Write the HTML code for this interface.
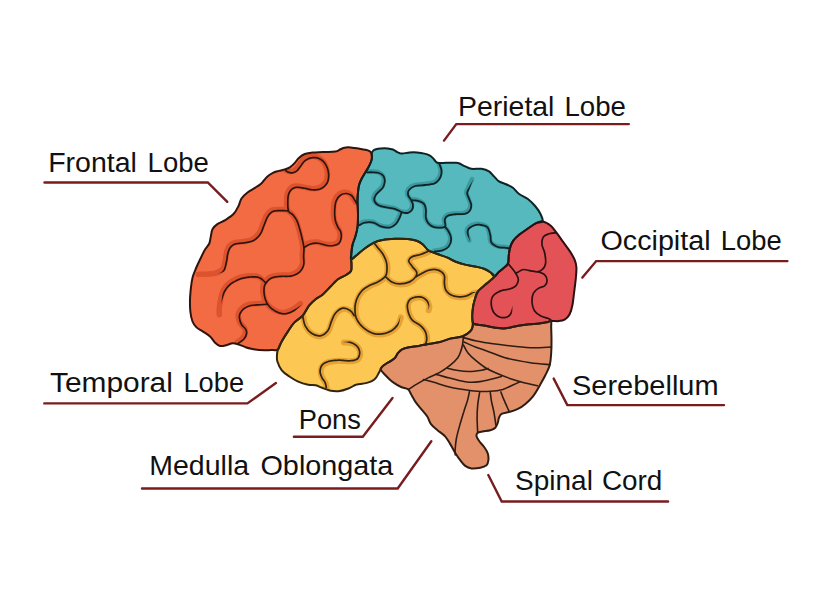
<!DOCTYPE html>
<html><head><meta charset="utf-8"><style>
html,body{margin:0;padding:0;background:#fff;width:824px;height:613px;overflow:hidden;}
svg{display:block;}
</style></head><body>
<svg width="824" height="613" viewBox="0 0 824 613">
<defs>
<clipPath id="cfr"><path d="M371.6,153.5C371.2,152.4 370.5,151.8 369.5,151.2C368.5,150.6 366.8,150.1 365.5,149.8C364.2,149.5 363.8,149.5 362,149.2C360.2,148.9 356.9,148.4 354.7,148.1C352.5,147.8 350.5,147.4 348.8,147.3C347.1,147.2 345.9,147.3 344.4,147.7C342.9,148.1 341.5,148.8 340,149.5C338.5,150.2 338.3,151.2 335.4,151.6C332.5,152 326.6,151.8 322.8,152C319,152.2 315.7,152.2 312.7,152.5C309.7,152.8 307.1,153.1 304.8,154C302.5,154.9 300.5,156.5 298.8,158C297.1,159.5 296.3,161.3 294.8,162.9C293.3,164.5 291.5,166.3 289.8,167.4C288.1,168.5 286.7,168.8 284.9,169.4C283.1,170 280.9,170.3 278.9,170.9C276.9,171.5 274.9,171.9 272.9,172.9C270.9,173.9 268.9,175.1 266.9,176.9C264.9,178.7 263,182 261,183.8C259,185.6 257.2,186.4 255,187.8C252.8,189.2 249.8,190.7 247.5,192.5C245.2,194.3 243,196.2 241.5,198.5C240,200.8 239.8,203.4 238.5,206C237.2,208.6 235.7,211.7 233.5,214C231.3,216.3 227.8,218.4 225.2,220.1C222.6,221.8 219.8,222.4 217.7,223.9C215.6,225.4 213.8,226.8 212.6,228.9C211.4,231 211.4,234 210.8,236.4C210.2,238.8 210.3,241.2 209.3,243.5C208.3,245.8 206.2,247.5 204.6,250.3C203,253.1 201.1,257.3 199.7,260.3C198.2,263.3 197.1,265.7 195.9,268.5C194.7,271.3 193.5,273.9 192.7,277C191.9,280.1 191.4,283.3 191,287C190.6,290.7 190.1,295.2 190,299.4C189.9,303.6 190,308.3 190.4,312C190.8,315.7 191.5,318.9 192.5,321.5C193.5,324.1 194.8,325.7 196.5,327.4C198.2,329.1 200.7,330.1 203,331.6C205.3,333.1 208.1,334.5 210.1,336.4C212.1,338.2 213.4,341.1 215.1,342.7C216.8,344.3 218.2,345.5 220.1,345.9C222,346.3 224.3,345.6 226.4,345.2C228.5,344.8 230.6,343.4 232.7,343.3C234.8,343.2 236.9,344 239,344.6C241.1,345.2 242.6,346.3 245.3,347.1C248,347.9 252,349.1 255.3,349.6C258.6,350.1 262.5,350.2 265.4,350.3C268.3,350.4 270.8,350.1 272.9,350C275,349.9 276.4,351 277.9,349.6C279.4,348.2 280,344.5 281.7,341.5C283.4,338.5 285.9,334.5 288,331.4C290.1,328.2 291.8,325.2 294.2,322.6C296.6,320 300.2,318.5 302.7,315.7C305.2,312.9 306.9,308.4 309,305.7C311.1,303 313,301.3 315.3,299.4C317.6,297.5 320.3,296.5 322.8,294.4C325.3,292.3 327.8,289.3 330.3,286.8C332.8,284.3 335.3,281.3 337.9,279.3C340.5,277.3 343.8,276.4 346,275C348.2,273.6 350.1,272.8 351,271C351.9,269.2 351.4,265.9 351.5,264C351.6,262.1 351.3,261.2 351.3,259.5C351.3,257.8 351.1,256.4 351.3,254C351.5,251.6 351.8,248 352.5,245C353.2,242 354.6,239.1 355.5,236C356.4,232.9 357.2,230.2 357.6,226.5C358,222.8 358,218.2 358,214C358,209.8 357.5,204.7 357.5,201C357.5,197.3 357.7,194.7 358,192C358.3,189.3 358.5,187.2 359.1,185C359.7,182.8 360.5,181 361.5,179C362.5,177 363.9,174.9 365,173C366.1,171.1 367.3,169.3 368.3,167.5C369.3,165.7 370.3,163.6 370.9,162C371.5,160.4 371.8,159.4 371.9,158C372,156.6 372,154.6 371.6,153.5Z"/></clipPath>
<clipPath id="cpa"><path d="M371.6,153.5C371.8,152.3 372.5,151.3 373.2,150.6C373.9,149.9 374.8,149.6 376,149.2C377.2,148.8 378.4,148.5 380.4,148.4C382.3,148.3 385.6,148.2 387.7,148.4C389.8,148.6 391.3,148.9 392.9,149.5C394.5,150.1 396.1,151.5 397.3,152.1C398.5,152.7 399.2,152.9 400,153.2C400.8,153.4 400.7,153.7 402.3,153.6C403.9,153.5 407.2,152.7 409.7,152.5C412.1,152.3 414.6,152.3 417,152.5C419.4,152.7 422.3,153.1 424.4,153.6C426.5,154.1 428,154.6 429.5,155.4C431,156.2 432.1,157.3 433.2,158.4C434.3,159.5 435.1,161.2 436.1,162C437.1,162.8 437.3,163 439,163.1C440.7,163.2 443.7,162.9 446.4,162.8C449.1,162.8 452.9,162.7 455,162.8C457.1,162.9 457.1,162.6 458.8,163.2C460.5,163.8 463,165.4 465.1,166.3C467.2,167.2 468.7,168.4 471.4,168.8C474.1,169.2 478.6,168.4 481.5,168.8C484.4,169.2 486.9,170 489,171.3C491.1,172.6 492.3,174.7 494,176.4C495.7,178.1 496.9,180.1 499,181.4C501.1,182.8 504.3,183.4 506.6,184.5C508.9,185.6 510.8,186.1 512.9,187.7C515,189.3 516.6,192.1 519.1,194C521.6,195.9 525.2,196.9 527.9,199C530.6,201.1 533.4,204 535.5,206.5C537.6,209 539.3,211.5 540.5,214C541.7,216.5 543.4,219.8 542.6,221.4C541.8,223 538.1,222.2 535.7,223.3C533.3,224.5 530.9,226.4 528.2,228.3C525.5,230.2 521.9,232.5 519.4,234.6C516.9,236.7 514.7,238.6 513.1,240.9C511.5,243.2 510.6,245.9 509.9,248.4C509.2,250.9 509,253.5 508.7,256C508.4,258.5 508.9,261.4 508,263.5C507.1,265.6 504.6,267 503,268.5C501.4,270 499.9,271 498.5,272.3C497.1,273.6 496,276.5 494.6,276.5C493.2,276.5 492.1,273.6 490.3,272.3C488.5,271 486.5,269.8 484,268.8C481.5,267.8 478.3,267.2 475.2,266.5C472.1,265.8 468.5,265.4 465.1,264.6C461.8,263.8 458,262.6 455.1,261.5C452.2,260.4 449.9,258.8 447.5,257.7C445.1,256.6 442.8,255.9 440.5,255.1C438.2,254.2 435.6,253.4 433.5,252.6C431.4,251.8 429.7,251.5 427.9,250.1C426.1,248.7 424.8,246 422.9,244.4C421,242.8 419.1,241.6 416.6,240.7C414.1,239.8 411.4,239.3 407.8,239C404.2,238.7 399.5,238.7 395.3,238.8C391.1,239 386.3,239.3 382.7,239.9C379.1,240.5 376.8,241.2 373.9,242.6C371,244 367.8,246.3 365.1,248.3C362.4,250.3 359.9,252.5 357.6,254.4C355.3,256.3 352.4,259.6 351.3,259.5C350.2,259.4 351.1,256.4 351.3,254C351.5,251.6 351.8,248 352.5,245C353.2,242 354.6,239.1 355.5,236C356.4,232.9 357.2,230.2 357.6,226.5C358,222.8 358,218.2 358,214C358,209.8 357.5,204.7 357.5,201C357.5,197.3 357.7,194.7 358,192C358.3,189.3 358.5,187.2 359.1,185C359.7,182.8 360.5,181 361.5,179C362.5,177 363.9,174.9 365,173C366.1,171.1 367.3,169.3 368.3,167.5C369.3,165.7 370.3,163.6 370.9,162C371.5,160.4 371.8,159.4 371.9,158C372,156.6 371.4,154.7 371.6,153.5Z"/></clipPath>
<clipPath id="coc"><path d="M542.6,221.4C540.1,221 538.1,222.2 535.7,223.3C533.3,224.5 530.9,226.4 528.2,228.3C525.5,230.2 521.9,232.5 519.4,234.6C516.9,236.7 514.7,238.6 513.1,240.9C511.5,243.2 510.6,245.9 509.9,248.4C509.2,250.9 509,253.5 508.7,256C508.4,258.5 508.9,261.4 508,263.5C507.1,265.6 504.6,267 503,268.5C501.4,270 499.9,271 498.5,272.3C497.1,273.6 496.2,274.9 494.6,276.5C493,278.1 490.6,280.2 488.6,281.9C486.6,283.6 484.5,285.2 482.7,286.9C480.9,288.6 479,289.8 477.7,291.9C476.4,294 475.5,297.1 474.7,299.8C473.9,302.5 473.3,305 472.9,307.8C472.5,310.6 472.2,314.1 472.2,316.7C472.2,319.3 472.2,322.3 473,323.6C473.8,324.9 475.2,324.3 477,324.6C478.8,324.9 481.2,325.1 484,325.6C486.8,326.1 490.6,327 493.9,327.5C497.2,328 500.4,328.7 503.6,328.6C506.9,328.5 510.7,327.3 513.4,326.8C516.1,326.3 517.3,325.9 520,325.5C522.7,325.1 526.2,324.6 529.4,324.3C532.6,324 536.3,324 539.2,323.6C542.1,323.2 545,322.6 547,322.2C549,321.8 549,321.2 551,321C553,320.8 556.5,321.3 558.8,321.1C561.1,320.9 562.8,320.7 564.6,319.6C566.4,318.5 568.2,317 569.5,314.5C570.8,312 571.7,308.8 572.5,304.7C573.3,300.6 573.8,294.6 574.4,290C575,285.4 575.6,281.1 575.9,277.3C576.2,273.5 576.6,270.2 576.4,267.3C576.2,264.4 575.7,262.4 574.6,259.7C573.5,257 571.5,253.8 569.6,250.9C567.7,248 565.4,245.1 563.3,242.2C561.2,239.3 559.1,236.1 557,233.4C554.9,230.7 553.2,227.8 550.8,225.8C548.4,223.8 545.1,221.8 542.6,221.4Z"/></clipPath>
<clipPath id="ctn"><path d="M380.6,369.4C380.3,368.1 381.5,367.4 382.5,366.4C383.5,365.4 384.9,364.5 386.4,363.5C387.9,362.5 389.8,361.6 391.3,360.6C392.8,359.6 394.1,358.9 395.2,357.6C396.3,356.3 397,354.1 398.2,352.7C399.4,351.3 400.3,350.2 402.1,349.3C403.9,348.4 406.2,347.9 409,347.3C411.8,346.7 415.4,346.5 418.7,345.9C421.9,345.3 424.9,344.5 428.5,343.9C432.1,343.2 436.4,342.9 440,342C443.6,341.1 446.2,339.6 450,338.6C453.8,337.7 459.4,337.5 462.8,336.3C466.2,335.1 468.7,332.9 470.3,331.3C471.9,329.8 472.1,328.3 472.5,327C472.9,325.7 472.2,324 473,323.6C473.8,323.2 475.2,324.3 477,324.6C478.8,324.9 481.2,325.1 484,325.6C486.8,326.1 490.6,327 493.9,327.5C497.2,328 500.4,328.7 503.6,328.6C506.9,328.5 510.7,327.3 513.4,326.8C516.1,326.3 517.3,325.9 520,325.5C522.7,325.1 526.2,324.6 529.4,324.3C532.6,324 536.3,324 539.2,323.6C542.1,323.2 545,322.6 547,322.2C549,321.8 550.3,320.1 551,321C551.7,321.9 551.1,324.4 551.2,327.6C551.3,330.8 551.5,335.9 551.5,340.1C551.5,344.3 551.5,348.5 551.2,352.7C550.9,356.9 550.7,361.4 549.7,365.2C548.7,369 546.9,372 545.3,375.3C543.7,378.6 542,381.5 540,385C538,388.5 535.4,393.2 533,396.3C530.6,399.4 527.9,401.8 525.4,403.9C522.9,406 520.6,407.5 517.9,408.9C515.2,410.2 511.8,411.2 509.1,412C506.4,412.8 503.3,412.9 501.6,413.9C499.9,414.8 499.6,416.2 499,417.7C498.4,419.2 498.4,421 497.8,422.7C497.2,424.4 496.6,426.4 495.3,427.7C494.1,429 492.4,429.7 490.3,430.3C488.2,430.9 484.8,431.1 482.7,431.5C480.6,431.9 478.7,432 477.7,432.8C476.7,433.6 476.3,435.1 476.6,436.5C476.9,437.9 478.2,439.7 479.5,441.5C480.8,443.3 483.1,445.5 484.5,447.5C485.9,449.5 487.2,451.4 487.8,453.5C488.4,455.6 488.6,458.2 488.4,460.2C488.2,462.1 487.9,463.9 486.5,465.2C485.1,466.4 482.8,467.2 480.3,467.7C477.8,468.2 474,468.7 471.5,468.4C469,468.1 467.1,467.3 465.2,465.9C463.3,464.5 461.9,462.4 460.2,460.2C458.5,458 456.8,455.4 455.1,452.7C453.4,450 451.8,446.6 450.1,443.9C448.4,441.2 447.2,438.6 445.1,436.3C443,434 439.9,432.2 437.5,430.2C435.1,428.2 432.7,426.4 431,424.1C429.3,421.8 428.8,418.8 427.3,416.5C425.9,414.2 424.2,412.6 422.3,410.3C420.4,408 417.5,404.8 416,402.7C414.5,400.6 414.1,399.5 413.2,398C412.3,396.5 411.8,395.4 410.9,393.9C410,392.4 409.6,390.3 408,389.2C406.4,388.1 403.4,388 401.1,387C398.8,386 396.2,384.4 394.3,383.1C392.4,381.8 391,380.7 389.4,379.2C387.8,377.7 386,375.9 384.5,374.3C383,372.7 380.9,370.7 380.6,369.4Z"/></clipPath>
<clipPath id="cte"><path d="M351.3,259.5C352.3,257.9 355.3,256.3 357.6,254.4C359.9,252.5 362.4,250.3 365.1,248.3C367.8,246.3 371,244 373.9,242.6C376.8,241.2 379.1,240.5 382.7,239.9C386.3,239.3 391.1,239 395.3,238.8C399.5,238.7 404.2,238.7 407.8,239C411.4,239.3 414.1,239.8 416.6,240.7C419.1,241.6 421,242.8 422.9,244.4C424.8,246 426.1,248.7 427.9,250.1C429.7,251.5 431.4,251.8 433.5,252.6C435.6,253.4 438.2,254.2 440.5,255.1C442.8,255.9 445.1,256.6 447.5,257.7C449.9,258.8 452.2,260.4 455.1,261.5C458,262.6 461.8,263.8 465.1,264.6C468.5,265.4 472.1,265.8 475.2,266.5C478.3,267.2 481.5,267.8 484,268.8C486.5,269.8 488.5,271 490.3,272.3C492.1,273.6 494.9,274.9 494.6,276.5C494.3,278.1 490.6,280.2 488.6,281.9C486.6,283.6 484.5,285.2 482.7,286.9C480.9,288.6 479,289.8 477.7,291.9C476.4,294 475.5,297.1 474.7,299.8C473.9,302.5 473.3,305 472.9,307.8C472.5,310.6 472.2,314.1 472.2,316.7C472.2,319.3 472.9,321.9 473,323.6C473.1,325.3 472.9,325.7 472.5,327C472.1,328.3 471.9,329.8 470.3,331.3C468.7,332.9 466.2,335.1 462.8,336.3C459.4,337.5 453.8,337.7 450,338.6C446.2,339.6 443.6,341.1 440,342C436.4,342.9 432.1,343.2 428.5,343.9C424.9,344.5 421.9,345.3 418.7,345.9C415.4,346.5 411.8,346.7 409,347.3C406.2,347.9 403.9,348.4 402.1,349.3C400.3,350.2 399.4,351.3 398.2,352.7C397,354.1 396.3,356.3 395.2,357.6C394.1,358.9 392.8,359.6 391.3,360.6C389.8,361.6 387.9,362.5 386.4,363.5C384.9,364.5 383.5,365.4 382.5,366.4C381.5,367.4 381.2,368.2 380.6,369.4C380,370.5 379.4,371.8 378.6,373.3C377.8,374.8 376.8,376.9 375.7,378.2C374.6,379.5 373.4,380.3 371.8,381.1C370.2,381.9 367.9,382.6 365.9,383.1C363.9,383.6 361.7,383.7 360,384C358.3,384.3 357.8,383.9 355.9,384.7C354,385.4 351.3,387.4 348.4,388.5C345.5,389.6 341.5,390.9 338.4,391.2C335.3,391.5 332.3,391.1 329.6,390.5C326.9,389.9 324.3,388.7 322,387.8C319.7,386.9 318,385.8 315.7,385.3C313.4,384.8 311.1,385.3 308.2,384.7C305.3,384.1 301.3,383 298.2,381.6C295.1,380.2 292.1,378.4 289.4,376.5C286.7,374.6 283.8,372.8 281.8,370.3C279.8,367.8 278.2,364.1 277.4,361.5C276.6,358.9 276.9,357 277,355C277.1,353 277.1,351.9 277.9,349.6C278.7,347.4 280,344.5 281.7,341.5C283.4,338.5 285.9,334.5 288,331.4C290.1,328.2 291.8,325.2 294.2,322.6C296.6,320 300.2,318.5 302.7,315.7C305.2,312.9 306.9,308.4 309,305.7C311.1,303 313,301.3 315.3,299.4C317.6,297.5 320.3,296.5 322.8,294.4C325.3,292.3 327.8,289.3 330.3,286.8C332.8,284.3 335.3,281.3 337.9,279.3C340.5,277.3 343.8,276.4 346,275C348.2,273.6 350.1,272.8 351,271C351.9,269.2 351.4,265.9 351.5,264C351.6,262.1 350.3,261.1 351.3,259.5Z"/></clipPath>
<filter id="bl" x="-5%" y="-5%" width="110%" height="110%"><feGaussianBlur stdDeviation="0.6"/></filter>
</defs>
<path d="M371.6,153.5C371.2,152.4 370.5,151.8 369.5,151.2C368.5,150.6 366.8,150.1 365.5,149.8C364.2,149.5 363.8,149.5 362,149.2C360.2,148.9 356.9,148.4 354.7,148.1C352.5,147.8 350.5,147.4 348.8,147.3C347.1,147.2 345.9,147.3 344.4,147.7C342.9,148.1 341.5,148.8 340,149.5C338.5,150.2 338.3,151.2 335.4,151.6C332.5,152 326.6,151.8 322.8,152C319,152.2 315.7,152.2 312.7,152.5C309.7,152.8 307.1,153.1 304.8,154C302.5,154.9 300.5,156.5 298.8,158C297.1,159.5 296.3,161.3 294.8,162.9C293.3,164.5 291.5,166.3 289.8,167.4C288.1,168.5 286.7,168.8 284.9,169.4C283.1,170 280.9,170.3 278.9,170.9C276.9,171.5 274.9,171.9 272.9,172.9C270.9,173.9 268.9,175.1 266.9,176.9C264.9,178.7 263,182 261,183.8C259,185.6 257.2,186.4 255,187.8C252.8,189.2 249.8,190.7 247.5,192.5C245.2,194.3 243,196.2 241.5,198.5C240,200.8 239.8,203.4 238.5,206C237.2,208.6 235.7,211.7 233.5,214C231.3,216.3 227.8,218.4 225.2,220.1C222.6,221.8 219.8,222.4 217.7,223.9C215.6,225.4 213.8,226.8 212.6,228.9C211.4,231 211.4,234 210.8,236.4C210.2,238.8 210.3,241.2 209.3,243.5C208.3,245.8 206.2,247.5 204.6,250.3C203,253.1 201.1,257.3 199.7,260.3C198.2,263.3 197.1,265.7 195.9,268.5C194.7,271.3 193.5,273.9 192.7,277C191.9,280.1 191.4,283.3 191,287C190.6,290.7 190.1,295.2 190,299.4C189.9,303.6 190,308.3 190.4,312C190.8,315.7 191.5,318.9 192.5,321.5C193.5,324.1 194.8,325.7 196.5,327.4C198.2,329.1 200.7,330.1 203,331.6C205.3,333.1 208.1,334.5 210.1,336.4C212.1,338.2 213.4,341.1 215.1,342.7C216.8,344.3 218.2,345.5 220.1,345.9C222,346.3 224.3,345.6 226.4,345.2C228.5,344.8 230.6,343.4 232.7,343.3C234.8,343.2 236.9,344 239,344.6C241.1,345.2 242.6,346.3 245.3,347.1C248,347.9 252,349.1 255.3,349.6C258.6,350.1 262.5,350.2 265.4,350.3C268.3,350.4 270.8,350.1 272.9,350C275,349.9 276.4,351 277.9,349.6C279.4,348.2 280,344.5 281.7,341.5C283.4,338.5 285.9,334.5 288,331.4C290.1,328.2 291.8,325.2 294.2,322.6C296.6,320 300.2,318.5 302.7,315.7C305.2,312.9 306.9,308.4 309,305.7C311.1,303 313,301.3 315.3,299.4C317.6,297.5 320.3,296.5 322.8,294.4C325.3,292.3 327.8,289.3 330.3,286.8C332.8,284.3 335.3,281.3 337.9,279.3C340.5,277.3 343.8,276.4 346,275C348.2,273.6 350.1,272.8 351,271C351.9,269.2 351.4,265.9 351.5,264C351.6,262.1 351.3,261.2 351.3,259.5C351.3,257.8 351.1,256.4 351.3,254C351.5,251.6 351.8,248 352.5,245C353.2,242 354.6,239.1 355.5,236C356.4,232.9 357.2,230.2 357.6,226.5C358,222.8 358,218.2 358,214C358,209.8 357.5,204.7 357.5,201C357.5,197.3 357.7,194.7 358,192C358.3,189.3 358.5,187.2 359.1,185C359.7,182.8 360.5,181 361.5,179C362.5,177 363.9,174.9 365,173C366.1,171.1 367.3,169.3 368.3,167.5C369.3,165.7 370.3,163.6 370.9,162C371.5,160.4 371.8,159.4 371.9,158C372,156.6 372,154.6 371.6,153.5Z" fill="#F26B43"/>
<path d="M371.6,153.5C371.8,152.3 372.5,151.3 373.2,150.6C373.9,149.9 374.8,149.6 376,149.2C377.2,148.8 378.4,148.5 380.4,148.4C382.3,148.3 385.6,148.2 387.7,148.4C389.8,148.6 391.3,148.9 392.9,149.5C394.5,150.1 396.1,151.5 397.3,152.1C398.5,152.7 399.2,152.9 400,153.2C400.8,153.4 400.7,153.7 402.3,153.6C403.9,153.5 407.2,152.7 409.7,152.5C412.1,152.3 414.6,152.3 417,152.5C419.4,152.7 422.3,153.1 424.4,153.6C426.5,154.1 428,154.6 429.5,155.4C431,156.2 432.1,157.3 433.2,158.4C434.3,159.5 435.1,161.2 436.1,162C437.1,162.8 437.3,163 439,163.1C440.7,163.2 443.7,162.9 446.4,162.8C449.1,162.8 452.9,162.7 455,162.8C457.1,162.9 457.1,162.6 458.8,163.2C460.5,163.8 463,165.4 465.1,166.3C467.2,167.2 468.7,168.4 471.4,168.8C474.1,169.2 478.6,168.4 481.5,168.8C484.4,169.2 486.9,170 489,171.3C491.1,172.6 492.3,174.7 494,176.4C495.7,178.1 496.9,180.1 499,181.4C501.1,182.8 504.3,183.4 506.6,184.5C508.9,185.6 510.8,186.1 512.9,187.7C515,189.3 516.6,192.1 519.1,194C521.6,195.9 525.2,196.9 527.9,199C530.6,201.1 533.4,204 535.5,206.5C537.6,209 539.3,211.5 540.5,214C541.7,216.5 543.4,219.8 542.6,221.4C541.8,223 538.1,222.2 535.7,223.3C533.3,224.5 530.9,226.4 528.2,228.3C525.5,230.2 521.9,232.5 519.4,234.6C516.9,236.7 514.7,238.6 513.1,240.9C511.5,243.2 510.6,245.9 509.9,248.4C509.2,250.9 509,253.5 508.7,256C508.4,258.5 508.9,261.4 508,263.5C507.1,265.6 504.6,267 503,268.5C501.4,270 499.9,271 498.5,272.3C497.1,273.6 496,276.5 494.6,276.5C493.2,276.5 492.1,273.6 490.3,272.3C488.5,271 486.5,269.8 484,268.8C481.5,267.8 478.3,267.2 475.2,266.5C472.1,265.8 468.5,265.4 465.1,264.6C461.8,263.8 458,262.6 455.1,261.5C452.2,260.4 449.9,258.8 447.5,257.7C445.1,256.6 442.8,255.9 440.5,255.1C438.2,254.2 435.6,253.4 433.5,252.6C431.4,251.8 429.7,251.5 427.9,250.1C426.1,248.7 424.8,246 422.9,244.4C421,242.8 419.1,241.6 416.6,240.7C414.1,239.8 411.4,239.3 407.8,239C404.2,238.7 399.5,238.7 395.3,238.8C391.1,239 386.3,239.3 382.7,239.9C379.1,240.5 376.8,241.2 373.9,242.6C371,244 367.8,246.3 365.1,248.3C362.4,250.3 359.9,252.5 357.6,254.4C355.3,256.3 352.4,259.6 351.3,259.5C350.2,259.4 351.1,256.4 351.3,254C351.5,251.6 351.8,248 352.5,245C353.2,242 354.6,239.1 355.5,236C356.4,232.9 357.2,230.2 357.6,226.5C358,222.8 358,218.2 358,214C358,209.8 357.5,204.7 357.5,201C357.5,197.3 357.7,194.7 358,192C358.3,189.3 358.5,187.2 359.1,185C359.7,182.8 360.5,181 361.5,179C362.5,177 363.9,174.9 365,173C366.1,171.1 367.3,169.3 368.3,167.5C369.3,165.7 370.3,163.6 370.9,162C371.5,160.4 371.8,159.4 371.9,158C372,156.6 371.4,154.7 371.6,153.5Z" fill="#55B9BE"/>
<path d="M542.6,221.4C540.1,221 538.1,222.2 535.7,223.3C533.3,224.5 530.9,226.4 528.2,228.3C525.5,230.2 521.9,232.5 519.4,234.6C516.9,236.7 514.7,238.6 513.1,240.9C511.5,243.2 510.6,245.9 509.9,248.4C509.2,250.9 509,253.5 508.7,256C508.4,258.5 508.9,261.4 508,263.5C507.1,265.6 504.6,267 503,268.5C501.4,270 499.9,271 498.5,272.3C497.1,273.6 496.2,274.9 494.6,276.5C493,278.1 490.6,280.2 488.6,281.9C486.6,283.6 484.5,285.2 482.7,286.9C480.9,288.6 479,289.8 477.7,291.9C476.4,294 475.5,297.1 474.7,299.8C473.9,302.5 473.3,305 472.9,307.8C472.5,310.6 472.2,314.1 472.2,316.7C472.2,319.3 472.2,322.3 473,323.6C473.8,324.9 475.2,324.3 477,324.6C478.8,324.9 481.2,325.1 484,325.6C486.8,326.1 490.6,327 493.9,327.5C497.2,328 500.4,328.7 503.6,328.6C506.9,328.5 510.7,327.3 513.4,326.8C516.1,326.3 517.3,325.9 520,325.5C522.7,325.1 526.2,324.6 529.4,324.3C532.6,324 536.3,324 539.2,323.6C542.1,323.2 545,322.6 547,322.2C549,321.8 549,321.2 551,321C553,320.8 556.5,321.3 558.8,321.1C561.1,320.9 562.8,320.7 564.6,319.6C566.4,318.5 568.2,317 569.5,314.5C570.8,312 571.7,308.8 572.5,304.7C573.3,300.6 573.8,294.6 574.4,290C575,285.4 575.6,281.1 575.9,277.3C576.2,273.5 576.6,270.2 576.4,267.3C576.2,264.4 575.7,262.4 574.6,259.7C573.5,257 571.5,253.8 569.6,250.9C567.7,248 565.4,245.1 563.3,242.2C561.2,239.3 559.1,236.1 557,233.4C554.9,230.7 553.2,227.8 550.8,225.8C548.4,223.8 545.1,221.8 542.6,221.4Z" fill="#E35257"/>
<path d="M380.6,369.4C380.3,368.1 381.5,367.4 382.5,366.4C383.5,365.4 384.9,364.5 386.4,363.5C387.9,362.5 389.8,361.6 391.3,360.6C392.8,359.6 394.1,358.9 395.2,357.6C396.3,356.3 397,354.1 398.2,352.7C399.4,351.3 400.3,350.2 402.1,349.3C403.9,348.4 406.2,347.9 409,347.3C411.8,346.7 415.4,346.5 418.7,345.9C421.9,345.3 424.9,344.5 428.5,343.9C432.1,343.2 436.4,342.9 440,342C443.6,341.1 446.2,339.6 450,338.6C453.8,337.7 459.4,337.5 462.8,336.3C466.2,335.1 468.7,332.9 470.3,331.3C471.9,329.8 472.1,328.3 472.5,327C472.9,325.7 472.2,324 473,323.6C473.8,323.2 475.2,324.3 477,324.6C478.8,324.9 481.2,325.1 484,325.6C486.8,326.1 490.6,327 493.9,327.5C497.2,328 500.4,328.7 503.6,328.6C506.9,328.5 510.7,327.3 513.4,326.8C516.1,326.3 517.3,325.9 520,325.5C522.7,325.1 526.2,324.6 529.4,324.3C532.6,324 536.3,324 539.2,323.6C542.1,323.2 545,322.6 547,322.2C549,321.8 550.3,320.1 551,321C551.7,321.9 551.1,324.4 551.2,327.6C551.3,330.8 551.5,335.9 551.5,340.1C551.5,344.3 551.5,348.5 551.2,352.7C550.9,356.9 550.7,361.4 549.7,365.2C548.7,369 546.9,372 545.3,375.3C543.7,378.6 542,381.5 540,385C538,388.5 535.4,393.2 533,396.3C530.6,399.4 527.9,401.8 525.4,403.9C522.9,406 520.6,407.5 517.9,408.9C515.2,410.2 511.8,411.2 509.1,412C506.4,412.8 503.3,412.9 501.6,413.9C499.9,414.8 499.6,416.2 499,417.7C498.4,419.2 498.4,421 497.8,422.7C497.2,424.4 496.6,426.4 495.3,427.7C494.1,429 492.4,429.7 490.3,430.3C488.2,430.9 484.8,431.1 482.7,431.5C480.6,431.9 478.7,432 477.7,432.8C476.7,433.6 476.3,435.1 476.6,436.5C476.9,437.9 478.2,439.7 479.5,441.5C480.8,443.3 483.1,445.5 484.5,447.5C485.9,449.5 487.2,451.4 487.8,453.5C488.4,455.6 488.6,458.2 488.4,460.2C488.2,462.1 487.9,463.9 486.5,465.2C485.1,466.4 482.8,467.2 480.3,467.7C477.8,468.2 474,468.7 471.5,468.4C469,468.1 467.1,467.3 465.2,465.9C463.3,464.5 461.9,462.4 460.2,460.2C458.5,458 456.8,455.4 455.1,452.7C453.4,450 451.8,446.6 450.1,443.9C448.4,441.2 447.2,438.6 445.1,436.3C443,434 439.9,432.2 437.5,430.2C435.1,428.2 432.7,426.4 431,424.1C429.3,421.8 428.8,418.8 427.3,416.5C425.9,414.2 424.2,412.6 422.3,410.3C420.4,408 417.5,404.8 416,402.7C414.5,400.6 414.1,399.5 413.2,398C412.3,396.5 411.8,395.4 410.9,393.9C410,392.4 409.6,390.3 408,389.2C406.4,388.1 403.4,388 401.1,387C398.8,386 396.2,384.4 394.3,383.1C392.4,381.8 391,380.7 389.4,379.2C387.8,377.7 386,375.9 384.5,374.3C383,372.7 380.9,370.7 380.6,369.4Z" fill="#E3916A"/>
<path d="M351.3,259.5C352.3,257.9 355.3,256.3 357.6,254.4C359.9,252.5 362.4,250.3 365.1,248.3C367.8,246.3 371,244 373.9,242.6C376.8,241.2 379.1,240.5 382.7,239.9C386.3,239.3 391.1,239 395.3,238.8C399.5,238.7 404.2,238.7 407.8,239C411.4,239.3 414.1,239.8 416.6,240.7C419.1,241.6 421,242.8 422.9,244.4C424.8,246 426.1,248.7 427.9,250.1C429.7,251.5 431.4,251.8 433.5,252.6C435.6,253.4 438.2,254.2 440.5,255.1C442.8,255.9 445.1,256.6 447.5,257.7C449.9,258.8 452.2,260.4 455.1,261.5C458,262.6 461.8,263.8 465.1,264.6C468.5,265.4 472.1,265.8 475.2,266.5C478.3,267.2 481.5,267.8 484,268.8C486.5,269.8 488.5,271 490.3,272.3C492.1,273.6 494.9,274.9 494.6,276.5C494.3,278.1 490.6,280.2 488.6,281.9C486.6,283.6 484.5,285.2 482.7,286.9C480.9,288.6 479,289.8 477.7,291.9C476.4,294 475.5,297.1 474.7,299.8C473.9,302.5 473.3,305 472.9,307.8C472.5,310.6 472.2,314.1 472.2,316.7C472.2,319.3 472.9,321.9 473,323.6C473.1,325.3 472.9,325.7 472.5,327C472.1,328.3 471.9,329.8 470.3,331.3C468.7,332.9 466.2,335.1 462.8,336.3C459.4,337.5 453.8,337.7 450,338.6C446.2,339.6 443.6,341.1 440,342C436.4,342.9 432.1,343.2 428.5,343.9C424.9,344.5 421.9,345.3 418.7,345.9C415.4,346.5 411.8,346.7 409,347.3C406.2,347.9 403.9,348.4 402.1,349.3C400.3,350.2 399.4,351.3 398.2,352.7C397,354.1 396.3,356.3 395.2,357.6C394.1,358.9 392.8,359.6 391.3,360.6C389.8,361.6 387.9,362.5 386.4,363.5C384.9,364.5 383.5,365.4 382.5,366.4C381.5,367.4 381.2,368.2 380.6,369.4C380,370.5 379.4,371.8 378.6,373.3C377.8,374.8 376.8,376.9 375.7,378.2C374.6,379.5 373.4,380.3 371.8,381.1C370.2,381.9 367.9,382.6 365.9,383.1C363.9,383.6 361.7,383.7 360,384C358.3,384.3 357.8,383.9 355.9,384.7C354,385.4 351.3,387.4 348.4,388.5C345.5,389.6 341.5,390.9 338.4,391.2C335.3,391.5 332.3,391.1 329.6,390.5C326.9,389.9 324.3,388.7 322,387.8C319.7,386.9 318,385.8 315.7,385.3C313.4,384.8 311.1,385.3 308.2,384.7C305.3,384.1 301.3,383 298.2,381.6C295.1,380.2 292.1,378.4 289.4,376.5C286.7,374.6 283.8,372.8 281.8,370.3C279.8,367.8 278.2,364.1 277.4,361.5C276.6,358.9 276.9,357 277,355C277.1,353 277.1,351.9 277.9,349.6C278.7,347.4 280,344.5 281.7,341.5C283.4,338.5 285.9,334.5 288,331.4C290.1,328.2 291.8,325.2 294.2,322.6C296.6,320 300.2,318.5 302.7,315.7C305.2,312.9 306.9,308.4 309,305.7C311.1,303 313,301.3 315.3,299.4C317.6,297.5 320.3,296.5 322.8,294.4C325.3,292.3 327.8,289.3 330.3,286.8C332.8,284.3 335.3,281.3 337.9,279.3C340.5,277.3 343.8,276.4 346,275C348.2,273.6 350.1,272.8 351,271C351.9,269.2 351.4,265.9 351.5,264C351.6,262.1 350.3,261.1 351.3,259.5Z" fill="#FCC853"/>
<g clip-path="url(#cfr)"><g filter="url(#bl)">
<path d="M284.9,169.4C285.2,169.7 285.6,170.8 286.8,171.4C288,172 290.1,173 291.8,172.9C293.5,172.8 295.3,172.1 296.8,170.9C298.3,169.7 299.5,167.6 300.8,165.9C302.1,164.2 303.2,162.2 304.8,160.9C306.4,159.6 308.6,158.5 310.7,158C312.8,157.5 315.5,157.3 317.7,158C319.9,158.7 322,160.1 323.7,161.9C325.4,163.7 326.8,166.4 327.6,168.9C328.4,171.4 328.8,174.4 328.6,176.9C328.4,179.4 327.9,181.8 326.6,183.8C325.3,185.8 323,187.8 320.7,188.8C318.4,189.8 315.3,189.9 312.7,189.8C310.1,189.7 307.4,188.7 304.8,188.3C302.2,187.9 299,187.1 296.8,187.3C294.6,187.5 293.1,188.2 291.8,189.3C290.5,190.4 289.5,191.9 288.8,193.8C288.1,195.7 287.9,197.8 287.8,200.7C287.8,203.5 287.6,208.5 288.5,210.9C289.4,213.3 291.5,213.2 292.9,214.9C294.3,216.6 295.7,218.3 296.9,220.8C298.1,223.3 299,226.6 299.9,229.8C300.8,233 301.7,236.8 302.4,239.8C303.1,242.8 303.7,245 303.9,247.7C304.1,250.4 303.7,253.1 303.6,256C303.6,258.9 304.2,262.4 303.6,265C303,267.6 301.7,270.1 299.7,271.9C297.7,273.7 295,275.1 291.7,275.9C288.4,276.6 283.1,276.1 279.8,276.4C276.5,276.7 274,277 271.8,277.9C269.6,278.8 268.1,280.4 266.8,281.9C265.6,283.4 264.7,284.6 264.3,286.8C263.9,289 263.9,292.1 264.3,294.8C264.7,297.5 265.6,300.5 266.8,302.8C268.1,305.1 269.8,307.1 271.8,308.7C273.8,310.3 276.5,311.9 278.8,312.7C281.1,313.5 283.2,314 285.7,313.7C288.2,313.4 291,312.2 293.7,310.7C296.4,309.2 300.3,305.8 301.6,304.8" fill="none" stroke="#DC522E" stroke-width="5.5" stroke-linecap="round" stroke-linejoin="round" transform="translate(-1.2,-1.2)"/>
<path d="M288.5,210.9C287.1,210.8 282.6,210.5 280,210.6C277.4,210.7 274.9,210.6 272.9,211.5C270.9,212.4 269.4,214 267.9,216.3C266.4,218.6 265.4,222.2 264.1,225.1C262.9,228 262.1,231.4 260.4,233.9C258.7,236.4 256.6,238.7 254.1,240.2C251.6,241.7 248.4,242.1 245.3,242.7C242.2,243.3 237.8,243.2 235.3,244C232.8,244.8 231.5,246 230.2,247.7C228.9,249.4 228.3,251.7 227.7,254C227.1,256.3 227.1,258.9 226.5,261.6C225.9,264.3 225.2,268.4 223.9,270.4C222.6,272.4 219.4,273.1 218.5,273.6" fill="none" stroke="#DC522E" stroke-width="5.5" stroke-linecap="round" stroke-linejoin="round" transform="translate(-1.2,-1.2)"/>
<path d="M303.9,247.7C304.9,247.1 307.6,244.9 309.9,244.2C312.2,243.4 315.1,243 317.8,243.2C320.5,243.4 323.3,244.8 325.8,245.2C328.3,245.6 330.6,245.9 332.7,245.7C334.8,245.4 337.3,245 338.7,243.7C340.1,242.4 340.9,239.8 341.2,237.8C341.5,235.8 341.3,233.6 340.7,231.8C340.1,230 338.6,228.8 337.7,226.8C336.8,224.8 335.7,222.7 335.2,219.9C334.7,217.1 334.5,213.1 334.7,209.9C334.9,206.7 335.2,203.4 336.2,200.9C337.2,198.4 338.9,196.2 340.7,195C342.4,193.8 344.9,193.4 346.7,193.5C348.5,193.6 350.3,194.4 351.6,195.5C352.9,196.6 353.7,198.7 354.6,200C355.5,201.3 356.4,202.9 356.8,203.5" fill="none" stroke="#DC522E" stroke-width="5.5" stroke-linecap="round" stroke-linejoin="round" transform="translate(-1.2,-1.2)"/>
<path d="M266.3,283.5C265.2,282.6 262.3,279 259.9,277.9C257.5,276.8 254.9,276.8 251.9,276.9C248.9,277 244.9,277.6 241.9,278.4C238.9,279.2 236.2,280.7 234,281.9C231.8,283.1 230.6,283.9 229,285.5C227.4,287.1 225.6,289.5 224.5,291.5C223.4,293.5 223,295.6 222.5,297.5C222,299.4 221.7,302.2 221.5,303.2" fill="none" stroke="#DC522E" stroke-width="5.5" stroke-linecap="round" stroke-linejoin="round" transform="translate(-1.2,-1.2)"/>
<path d="M266.8,304.3C265.6,304.4 262.7,304.6 259.9,304.8C257.1,305 252.6,305.1 249.9,305.7C247.2,306.3 245.6,307.4 243.9,308.7C242.2,310 240.7,312.1 240,313.7C239.3,315.3 239.2,316.7 239.5,318.5C239.8,320.3 240.4,322.7 241.5,324.5C242.6,326.3 245,327.9 245.8,329.5C246.6,331.1 246.8,332.4 246.5,334C246.2,335.6 245.3,337.5 244,339C242.7,340.5 239.4,342.5 238.5,343.2" fill="none" stroke="#DC522E" stroke-width="5.5" stroke-linecap="round" stroke-linejoin="round" transform="translate(-1.2,-1.2)"/>
<path d="M221.5,303.2C221.3,304.2 220.7,306.9 220.5,309C220.3,311.1 220.5,314.8 220.5,316" fill="none" stroke="#DC522E" stroke-width="5.5" stroke-linecap="round" stroke-linejoin="round" transform="translate(-1.2,-1.2)"/>
<path d="M223.9,270.4C223.1,271 221.2,273 218.9,273.8C216.6,274.6 213.2,274.9 210,275.2C206.8,275.5 201.2,275.5 199.5,275.6" fill="none" stroke="#DC522E" stroke-width="5.5" stroke-linecap="round" stroke-linejoin="round" transform="translate(-1.2,-1.2)"/>
</g></g>
<g clip-path="url(#cpa)"><g filter="url(#bl)">
<path d="M367.2,172.3C368.2,172.3 371.1,172.2 373,172.3C374.9,172.4 377.2,172.4 378.9,173C380.6,173.6 382.3,174.7 383.3,175.9C384.3,177.1 384.7,178.9 384.8,180.4C384.9,181.9 384.4,183.7 384,185C383.6,186.3 383.6,186.9 382.2,188.5C380.8,190.1 377.2,192.8 375.9,194.8C374.6,196.8 373.9,198.8 374.3,200.5C374.7,202.2 376.2,203.9 378,205C379.8,206.1 382.2,206.6 385,207.2C387.8,207.8 391.8,208 394.7,208.8C397.6,209.7 400.1,211.6 402.3,212.3C404.5,213 406.4,213.2 408,212.8C409.6,212.4 411.2,211.2 412,209.9C412.8,208.6 413.2,206.6 413,204.9C412.8,203.2 411.8,201.6 411,199.9C410.2,198.2 408.3,196.6 408,194.9C407.7,193.2 407.8,191.5 409,190C410.2,188.5 412.4,186.8 415,186C417.6,185.2 421.6,185.4 424.9,185C428.2,184.6 432.2,184.2 434.6,183.3C437,182.4 437.9,181.1 439,179.6C440.1,178.1 440.9,176.2 441.3,174.5C441.7,172.8 441.7,171.3 441.3,169.4C440.9,167.5 439.4,164.2 439,163.1" fill="none" stroke="#3C99A0" stroke-width="4.5" stroke-linecap="round" stroke-linejoin="round" transform="translate(-0.9,-0.9)"/>
<path d="M411.5,200.2C412.6,200.3 415.8,200.3 417.9,200.9C420,201.5 422.6,202.4 423.9,203.9C425.2,205.4 425.6,207.6 425.9,209.9C426.2,212.2 425.4,215.5 425.9,217.8C426.4,220.1 427.4,222.2 428.9,223.8C430.4,225.4 432.2,226.8 434.9,227.3C437.5,227.8 443.1,228.1 444.8,226.8C446.5,225.6 444.3,221.6 444.8,219.8C445.3,218 446.1,216.7 447.8,215.8C449.5,214.9 452,214.6 454.8,214.3C457.6,214 462.2,214.4 464.7,213.8C467.2,213.2 468.6,212.3 469.7,210.8C470.8,209.3 471.4,207.1 471.2,204.9C471,202.8 469.4,199.9 468.7,197.9C468,195.9 467,194.7 467.2,192.9C467.4,191.1 468.7,189.2 469.7,187C470.7,184.8 472.4,181.2 473,180" fill="none" stroke="#3C99A0" stroke-width="4.5" stroke-linecap="round" stroke-linejoin="round" transform="translate(-0.9,-0.9)"/>
<path d="M444.8,226.8C445.5,227.6 447.7,229.7 448.8,231.7C449.9,233.7 451.2,236.4 451.2,238.9C451.2,241.4 450.1,244.6 448.7,246.5C447.2,248.4 444.8,249.5 442.5,250.3C440.2,251.1 436.2,251.3 434.9,251.5" fill="none" stroke="#3C99A0" stroke-width="4.5" stroke-linecap="round" stroke-linejoin="round" transform="translate(-0.9,-0.9)"/>
<path d="M359.5,225.1C360.4,224.7 362.3,223 364.6,222.6C366.9,222.2 370.7,222 373.4,222.6C376.1,223.2 378.2,225.6 380.9,226.4C383.6,227.2 387.2,228 389.7,227.6C392.2,227.2 394.3,225.6 396,223.9C397.7,222.2 398.8,219.5 399.7,217.6C400.6,215.7 401.2,213.3 401.5,212.5" fill="none" stroke="#3C99A0" stroke-width="4.5" stroke-linecap="round" stroke-linejoin="round" transform="translate(-0.9,-0.9)"/>
<path d="M470.2,241.4C469.8,239.9 467.7,234.9 467.6,232.6C467.5,230.3 468.2,229.1 469.7,227.8C471.2,226.5 474.5,225.2 476.6,224.8C478.8,224.4 480.8,224.8 482.6,225.3C484.5,225.8 486.4,226 487.7,227.6C489,229.2 489.7,232.6 490.3,235.1C490.9,237.6 490.2,240.6 491.5,242.6C492.8,244.6 495.7,246.2 497.8,247C499.9,247.8 502,247.4 504,247.6C506,247.8 508.9,248.3 509.9,248.4" fill="none" stroke="#3C99A0" stroke-width="4.5" stroke-linecap="round" stroke-linejoin="round" transform="translate(-0.9,-0.9)"/>
</g></g>
<g clip-path="url(#cte)"><g filter="url(#bl)">
<path d="M373.9,242.6C374.5,243.4 376.2,245.7 377.7,247.6C379.2,249.5 381.2,251.3 382.7,253.8C384.2,256.3 385.8,259.6 386.5,262.6C387.2,265.6 387.1,269.5 386.8,271.9C386.5,274.3 386.3,275.2 384.8,276.9C383.3,278.6 380.5,280.4 377.8,281.9C375.1,283.4 371.5,284.3 368.9,285.8C366.2,287.3 363.9,288.6 361.9,290.8C359.9,293 358,295.9 356.9,298.8C355.8,301.7 355.1,304.8 355,308C354.9,311.2 355,315 356.3,318.1C357.6,321.2 359.9,324.4 362.6,326.9C365.3,329.4 369.2,332 372.6,333.2C376,334.4 379.6,334.2 382.7,333.8C385.8,333.4 389,332.3 391.5,330.7C394,329.1 396.3,326.7 397.8,324.4C399.3,322.1 399.9,318.1 400.3,316.8" fill="none" stroke="#E6A236" stroke-width="6" stroke-linecap="round" stroke-linejoin="round" transform="translate(0.5,0.5)"/>
<path d="M385.8,276.9C386.8,277.7 389.4,280.7 391.7,281.9C394,283.1 396.7,283.9 399.7,283.9C402.7,283.9 407,283.1 409.7,281.9C412.4,280.7 414.5,278.6 415.6,276.9C416.8,275.2 417.1,273.6 416.6,271.9C416.1,270.2 413.9,268.7 412.6,266.9C411.3,265.1 408.9,262.6 408.7,261C408.5,259.4 409.7,258.1 411.6,257C413.6,255.9 417.7,255.4 420.4,254.5C423.1,253.6 426.6,252 427.9,251.5" fill="none" stroke="#E6A236" stroke-width="6" stroke-linecap="round" stroke-linejoin="round" transform="translate(0.5,0.5)"/>
<path d="M415.6,276.9C416.5,276.4 418.9,275 421,273.9C423.1,272.8 425.6,271.2 427.9,270.5C430.2,269.8 432.7,269.3 434.9,269.5C437.1,269.7 439.3,270.4 440.9,271.5C442.5,272.6 443.8,274 444.4,275.9C445,277.8 444.2,280.6 444.4,282.9C444.6,285.2 444.7,287.9 445.8,289.9C446.9,291.9 448.6,293.6 450.8,294.8C453,296 456.2,296.6 458.8,296.8C461.4,297 464.4,296.5 466.7,295.8C469,295.1 471,293.5 472.7,292.8C474.4,292.1 476,292 476.7,291.9" fill="none" stroke="#E6A236" stroke-width="6" stroke-linecap="round" stroke-linejoin="round" transform="translate(0.5,0.5)"/>
<path d="M302.7,316C303.1,317.6 303.7,322.9 305.2,325.8C306.7,328.7 309,331.6 311.5,333.3C314,335 317.6,336.2 320.3,335.8C323,335.4 325.9,333.3 327.8,330.8C329.7,328.3 330.3,323.7 331.6,320.8C332.9,317.9 333.5,315.3 335.4,313.2C337.3,311.1 340.4,308.6 342.9,308.2C345.4,307.8 348.5,309.4 350.4,310.7C352.3,311.9 353.6,314.9 354.2,315.7" fill="none" stroke="#E6A236" stroke-width="6" stroke-linecap="round" stroke-linejoin="round" transform="translate(0.5,0.5)"/>
<path d="M428.2,309.8C428.3,309.1 429.1,307.3 428.9,305.8C428.7,304.3 428,302.2 426.9,300.8C425.8,299.4 423.9,297.9 422,297.3C420.1,296.7 417.4,296.8 415.4,297.2C413.4,297.6 411.3,298.3 410,299.5C408.7,300.7 407.9,302.8 407.5,304.5C407.1,306.2 407.5,308.2 407.8,310C408.1,311.8 408.7,313.7 409.5,315.5C410.3,317.3 411,318.9 412.8,320.6C414.6,322.3 418.3,323.7 420.4,325.6C422.5,327.5 424.3,329.6 425.4,331.9C426.4,334.2 426.8,337.2 426.7,339.5C426.6,341.8 425.1,344.8 424.8,345.8" fill="none" stroke="#E6A236" stroke-width="6" stroke-linecap="round" stroke-linejoin="round" transform="translate(0.5,0.5)"/>
<path d="M343.4,342C344.6,342.1 348.6,341.9 350.9,342.6C353.2,343.3 355.7,344.7 357.2,346.4C358.7,348.1 359.7,350.6 359.7,352.7C359.7,354.8 358.9,357.6 357.2,359C355.5,360.4 352.8,360.6 349.7,360.8C346.6,361 342,360.1 338.4,360.2C334.8,360.3 331,360.7 328.3,361.5C325.6,362.3 323.4,363.5 322,365.2C320.6,366.9 320.1,369.4 320.1,371.5C320.1,373.6 321.1,375.9 322,377.8C322.9,379.7 324.5,381 325.2,382.8C325.9,384.6 326.2,387.6 326.4,388.5" fill="none" stroke="#E6A236" stroke-width="6" stroke-linecap="round" stroke-linejoin="round" transform="translate(0.5,0.5)"/>
</g></g>
<path d="M284.23,169.88 L284.49,170.25 L284.89,170.82 L285.52,171.51 L286.37,172.10 L286.92,172.38 L287.50,172.65 L288.14,172.92 L288.84,173.18 L289.57,173.41 L290.32,173.59 L291.08,173.71 L291.83,173.72 L292.55,173.65 L293.26,173.52 L293.97,173.32 L294.67,173.07 L295.36,172.77 L296.03,172.41 L296.68,172.00 L297.31,171.55 L297.80,171.12 L298.27,170.65 L298.71,170.15 L299.13,169.62 L299.53,169.07 L299.92,168.52 L300.31,167.97 L300.69,167.43 L301.07,166.91 L301.45,166.40 L301.85,165.88 L302.24,165.34 L302.62,164.80 L302.99,164.27 L303.35,163.75 L303.72,163.25 L304.10,162.77 L304.48,162.33 L304.89,161.92 L305.32,161.54 L305.79,161.18 L306.30,160.82 L306.83,160.49 L307.37,160.17 L307.93,159.88 L308.51,159.60 L309.09,159.36 L309.68,159.14 L310.28,158.96 L310.89,158.80 L311.45,158.69 L312.04,158.59 L312.65,158.50 L313.27,158.44 L313.89,158.41 L314.52,158.40 L315.14,158.41 L315.75,158.46 L316.34,158.54 L316.92,158.65 L317.47,158.79 L318.01,158.97 L318.56,159.19 L319.10,159.44 L319.64,159.72 L320.18,160.04 L320.70,160.38 L321.22,160.75 L321.72,161.14 L322.19,161.56 L322.65,162.00 L323.09,162.46 L323.44,162.86 L323.79,163.30 L324.13,163.76 L324.46,164.25 L324.78,164.75 L325.09,165.27 L325.39,165.81 L325.67,166.36 L325.93,166.92 L326.18,167.48 L326.41,168.04 L326.62,168.60 L326.82,169.16 L326.99,169.72 L327.14,170.29 L327.29,170.88 L327.41,171.48 L327.52,172.09 L327.61,172.70 L327.69,173.31 L327.74,173.92 L327.78,174.53 L327.81,175.13 L327.82,175.72 L327.80,176.29 L327.78,176.85 L327.72,177.50 L327.65,178.14 L327.56,178.78 L327.45,179.41 L327.31,180.02 L327.15,180.62 L326.96,181.20 L326.75,181.77 L326.50,182.31 L326.22,182.84 L325.91,183.35 L325.59,183.80 L325.23,184.27 L324.83,184.73 L324.41,185.18 L323.96,185.62 L323.49,186.04 L323.00,186.45 L322.49,186.83 L321.97,187.18 L321.44,187.50 L320.91,187.79 L320.37,188.04 L319.88,188.24 L319.35,188.41 L318.80,188.55 L318.23,188.67 L317.65,188.77 L317.05,188.85 L316.44,188.91 L315.82,188.96 L315.20,188.98 L314.57,189.00 L313.95,189.00 L313.33,188.99 L312.73,188.98 L312.16,188.94 L311.58,188.88 L311.00,188.80 L310.42,188.70 L309.83,188.58 L309.24,188.44 L308.64,188.30 L308.04,188.15 L307.43,188.00 L306.81,187.86 L306.19,187.72 L305.56,187.59 L304.94,187.49 L304.32,187.38 L303.69,187.28 L303.04,187.16 L302.39,187.04 L301.73,186.93 L301.07,186.82 L300.42,186.72 L299.77,186.63 L299.13,186.55 L298.50,186.49 L297.89,186.46 L297.30,186.45 L296.73,186.48 L295.89,186.57 L295.10,186.73 L294.36,186.94 L293.67,187.20 L293.02,187.50 L292.40,187.85 L291.83,188.24 L291.28,188.66 L290.80,189.07 L290.36,189.52 L289.94,190.01 L289.55,190.52 L289.19,191.06 L288.85,191.64 L288.55,192.24 L288.27,192.87 L288.02,193.52 L287.84,194.08 L287.68,194.65 L287.53,195.24 L287.41,195.84 L287.30,196.46 L287.21,197.10 L287.13,197.76 L287.07,198.45 L287.03,199.17 L287.00,199.91 L286.98,200.68 L286.97,201.21 L286.96,201.77 L286.95,202.37 L286.94,203.00 L286.94,203.65 L286.95,204.31 L286.96,204.99 L286.98,205.67 L287.00,206.35 L287.04,207.03 L287.09,207.69 L287.15,208.34 L287.23,208.97 L287.32,209.57 L287.43,210.14 L287.57,210.68 L287.74,211.21 L288.12,212.02 L288.61,212.71 L289.18,213.25 L289.77,213.68 L290.35,214.04 L290.90,214.36 L291.41,214.68 L291.86,215.03 L292.29,215.46 L292.65,215.88 L293.03,216.34 L293.40,216.80 L293.77,217.28 L294.13,217.76 L294.49,218.27 L294.84,218.79 L295.19,219.34 L295.52,219.92 L295.84,220.52 L296.15,221.15 L296.37,221.64 L296.59,222.15 L296.80,222.68 L297.01,223.24 L297.21,223.81 L297.41,224.39 L297.61,224.99 L297.80,225.60 L297.99,226.22 L298.18,226.85 L298.37,227.48 L298.56,228.12 L298.74,228.75 L298.92,229.39 L299.11,230.03 L299.27,230.59 L299.43,231.16 L299.59,231.75 L299.75,232.34 L299.90,232.94 L300.06,233.54 L300.21,234.15 L300.37,234.76 L300.52,235.37 L300.66,235.98 L300.81,236.58 L300.95,237.17 L301.09,237.76 L301.22,238.33 L301.35,238.90 L301.48,239.45 L301.60,239.98 L301.75,240.66 L301.90,241.31 L302.05,241.95 L302.19,242.56 L302.33,243.15 L302.46,243.74 L302.58,244.31 L302.69,244.88 L302.79,245.45 L302.88,246.01 L302.96,246.59 L303.03,247.17 L303.08,247.76 L303.11,248.36 L303.13,248.96 L303.12,249.56 L303.11,250.17 L303.08,250.79 L303.04,251.41 L303.00,252.04 L302.95,252.68 L302.91,253.32 L302.86,253.98 L302.82,254.64 L302.79,255.31 L302.78,255.99 L302.77,256.59 L302.79,257.21 L302.82,257.83 L302.86,258.46 L302.90,259.08 L302.94,259.71 L302.98,260.33 L303.02,260.94 L303.04,261.54 L303.05,262.13 L303.05,262.71 L303.02,263.27 L302.97,263.80 L302.90,264.32 L302.80,264.81 L302.65,265.38 L302.47,265.95 L302.28,266.51 L302.06,267.05 L301.82,267.59 L301.57,268.11 L301.29,268.61 L300.98,269.10 L300.66,269.58 L300.31,270.03 L299.95,270.47 L299.56,270.89 L299.14,271.29 L298.73,271.65 L298.30,272.00 L297.85,272.34 L297.37,272.67 L296.88,272.98 L296.36,273.28 L295.83,273.56 L295.27,273.83 L294.69,274.09 L294.10,274.32 L293.48,274.54 L292.85,274.75 L292.19,274.93 L291.52,275.10 L291.02,275.20 L290.48,275.28 L289.92,275.34 L289.32,275.39 L288.71,275.43 L288.07,275.46 L287.42,275.47 L286.76,275.48 L286.09,275.48 L285.42,275.48 L284.74,275.47 L284.07,275.47 L283.41,275.46 L282.75,275.46 L282.11,275.47 L281.48,275.48 L280.87,275.50 L280.28,275.53 L279.72,275.58 L278.96,275.66 L278.24,275.73 L277.53,275.81 L276.85,275.89 L276.19,275.97 L275.55,276.07 L274.92,276.17 L274.31,276.29 L273.72,276.42 L273.14,276.57 L272.58,276.74 L272.02,276.93 L271.47,277.14 L270.79,277.46 L270.15,277.82 L269.54,278.21 L268.96,278.62 L268.42,279.06 L267.91,279.51 L267.44,279.97 L266.99,280.44 L266.57,280.91 L266.17,281.37 L265.75,281.87 L265.36,282.38 L265.00,282.90 L264.67,283.43 L264.36,283.99 L264.09,284.59 L263.86,285.23 L263.66,285.91 L263.49,286.64 L263.40,287.19 L263.32,287.76 L263.26,288.36 L263.21,288.98 L263.18,289.62 L263.16,290.28 L263.16,290.94 L263.18,291.61 L263.21,292.28 L263.26,292.96 L263.32,293.62 L263.39,294.28 L263.48,294.93 L263.59,295.57 L263.71,296.21 L263.85,296.87 L264.00,297.52 L264.17,298.18 L264.35,298.84 L264.55,299.50 L264.76,300.14 L264.99,300.78 L265.24,301.41 L265.50,302.02 L265.78,302.62 L266.07,303.19 L266.41,303.79 L266.77,304.37 L267.15,304.94 L267.55,305.49 L267.96,306.02 L268.39,306.54 L268.84,307.04 L269.30,307.53 L269.78,308.00 L270.26,308.46 L270.76,308.90 L271.28,309.34 L271.77,309.73 L272.28,310.12 L272.81,310.49 L273.36,310.86 L273.92,311.21 L274.49,311.56 L275.06,311.89 L275.64,312.20 L276.22,312.49 L276.81,312.77 L277.38,313.03 L277.96,313.26 L278.52,313.48 L279.16,313.70 L279.80,313.91 L280.44,314.09 L281.08,314.26 L281.73,314.39 L282.38,314.50 L283.04,314.58 L283.71,314.62 L284.40,314.63 L285.10,314.59 L285.81,314.52 L286.38,314.43 L286.96,314.31 L287.55,314.17 L288.14,314.01 L288.73,313.83 L289.33,313.62 L289.93,313.40 L290.54,313.16 L291.14,312.90 L291.74,312.63 L292.34,312.35 L292.93,312.05 L293.52,311.74 L294.11,311.42 L294.64,311.10 L295.18,310.72 L295.71,310.29 L296.26,309.83 L296.80,309.36 L297.34,308.87 L297.88,308.37 L298.40,307.88 L298.91,307.40 L299.40,306.93 L299.86,306.48 L300.29,306.06 L300.69,305.68 L301.07,305.37 L301.40,305.11 L301.68,304.90 L301.52,304.70 L301.25,304.91 L300.91,305.18 L300.53,305.49 L300.08,305.80 L299.58,306.13 L299.05,306.49 L298.48,306.86 L297.90,307.24 L297.30,307.63 L296.69,308.01 L296.08,308.39 L295.48,308.75 L294.89,309.09 L294.31,309.40 L293.78,309.70 L293.29,309.98 L292.74,310.29 L292.18,310.58 L291.61,310.87 L291.04,311.14 L290.47,311.39 L289.91,311.64 L289.34,311.86 L288.78,312.07 L288.23,312.26 L287.68,312.43 L287.14,312.57 L286.61,312.70 L286.09,312.80 L285.59,312.88 L284.97,312.95 L284.36,312.98 L283.77,312.97 L283.19,312.94 L282.61,312.87 L282.03,312.77 L281.46,312.65 L280.88,312.50 L280.29,312.33 L279.69,312.14 L279.08,311.92 L278.56,311.73 L278.03,311.51 L277.50,311.27 L276.95,311.01 L276.41,310.74 L275.86,310.44 L275.32,310.13 L274.79,309.81 L274.26,309.48 L273.75,309.14 L273.25,308.78 L272.78,308.43 L272.32,308.06 L271.85,307.66 L271.38,307.24 L270.92,306.81 L270.48,306.38 L270.06,305.92 L269.64,305.46 L269.25,304.99 L268.87,304.50 L268.50,304.00 L268.16,303.48 L267.83,302.95 L267.53,302.41 L267.26,301.89 L267.01,301.35 L266.76,300.78 L266.54,300.20 L266.32,299.61 L266.12,299.00 L265.94,298.38 L265.76,297.76 L265.60,297.14 L265.46,296.51 L265.33,295.89 L265.22,295.28 L265.12,294.67 L265.03,294.07 L264.96,293.45 L264.90,292.82 L264.86,292.19 L264.83,291.55 L264.81,290.92 L264.81,290.29 L264.83,289.68 L264.86,289.08 L264.90,288.51 L264.96,287.96 L265.03,287.44 L265.11,286.96 L265.25,286.32 L265.42,285.74 L265.62,285.22 L265.84,284.73 L266.09,284.26 L266.38,283.81 L266.69,283.36 L267.04,282.90 L267.43,282.43 L267.80,282.00 L268.20,281.56 L268.61,281.14 L269.04,280.72 L269.49,280.32 L269.97,279.93 L270.46,279.57 L270.99,279.23 L271.54,278.93 L272.13,278.66 L272.59,278.47 L273.08,278.31 L273.58,278.16 L274.10,278.02 L274.65,277.90 L275.21,277.80 L275.80,277.70 L276.42,277.61 L277.05,277.52 L277.72,277.45 L278.41,277.37 L279.13,277.30 L279.88,277.22 L280.40,277.18 L280.95,277.15 L281.52,277.13 L282.13,277.12 L282.75,277.11 L283.40,277.11 L284.06,277.12 L284.73,277.12 L285.41,277.13 L286.09,277.13 L286.77,277.13 L287.45,277.12 L288.12,277.11 L288.79,277.08 L289.44,277.04 L290.08,276.99 L290.70,276.91 L291.30,276.82 L291.88,276.70 L292.61,276.53 L293.32,276.33 L294.01,276.11 L294.68,275.87 L295.33,275.61 L295.96,275.33 L296.57,275.04 L297.16,274.72 L297.73,274.39 L298.28,274.04 L298.81,273.68 L299.31,273.31 L299.80,272.91 L300.26,272.51 L300.73,272.05 L301.18,271.57 L301.60,271.06 L302.00,270.54 L302.37,270.00 L302.71,269.45 L303.03,268.87 L303.32,268.29 L303.58,267.69 L303.82,267.08 L304.04,266.46 L304.23,265.83 L304.40,265.19 L304.53,264.60 L304.61,264.00 L304.67,263.38 L304.70,262.76 L304.70,262.13 L304.69,261.49 L304.67,260.86 L304.63,260.23 L304.59,259.59 L304.55,258.97 L304.50,258.35 L304.47,257.74 L304.44,257.15 L304.42,256.57 L304.42,256.01 L304.44,255.37 L304.47,254.72 L304.51,254.08 L304.55,253.44 L304.60,252.80 L304.64,252.16 L304.69,251.52 L304.73,250.87 L304.76,250.23 L304.77,249.59 L304.77,248.94 L304.76,248.29 L304.72,247.64 L304.67,247.00 L304.60,246.38 L304.51,245.77 L304.42,245.17 L304.31,244.58 L304.19,243.98 L304.07,243.39 L303.94,242.79 L303.80,242.19 L303.65,241.57 L303.51,240.94 L303.36,240.29 L303.20,239.62 L303.08,239.08 L302.96,238.53 L302.83,237.96 L302.69,237.38 L302.56,236.79 L302.41,236.19 L302.27,235.59 L302.12,234.98 L301.97,234.36 L301.81,233.75 L301.66,233.14 L301.50,232.52 L301.34,231.92 L301.18,231.32 L301.02,230.72 L300.86,230.14 L300.69,229.57 L300.51,228.94 L300.33,228.30 L300.14,227.66 L299.95,227.02 L299.76,226.38 L299.57,225.74 L299.38,225.11 L299.18,224.48 L298.98,223.87 L298.77,223.26 L298.56,222.67 L298.34,222.09 L298.12,221.52 L297.89,220.98 L297.65,220.45 L297.31,219.76 L296.96,219.11 L296.60,218.49 L296.23,217.90 L295.85,217.33 L295.47,216.79 L295.08,216.28 L294.69,215.78 L294.30,215.29 L293.92,214.82 L293.51,214.34 L292.95,213.79 L292.35,213.32 L291.75,212.95 L291.19,212.62 L290.68,212.31 L290.24,211.99 L289.86,211.63 L289.54,211.19 L289.26,210.59 L289.15,210.23 L289.04,209.79 L288.95,209.29 L288.86,208.74 L288.79,208.16 L288.73,207.56 L288.69,206.92 L288.65,206.28 L288.62,205.62 L288.61,204.96 L288.60,204.30 L288.59,203.65 L288.59,203.01 L288.60,202.39 L288.61,201.80 L288.62,201.24 L288.62,200.72 L288.64,199.97 L288.68,199.26 L288.72,198.58 L288.78,197.93 L288.85,197.31 L288.93,196.72 L289.03,196.15 L289.14,195.60 L289.27,195.08 L289.42,194.57 L289.58,194.08 L289.80,193.49 L290.04,192.94 L290.30,192.42 L290.59,191.93 L290.89,191.47 L291.22,191.05 L291.56,190.65 L291.93,190.28 L292.32,189.94 L292.79,189.58 L293.27,189.25 L293.78,188.97 L294.31,188.72 L294.87,188.50 L295.48,188.33 L296.14,188.20 L296.87,188.12 L297.33,188.10 L297.84,188.11 L298.38,188.14 L298.96,188.19 L299.56,188.26 L300.18,188.35 L300.81,188.45 L301.45,188.56 L302.10,188.67 L302.75,188.79 L303.40,188.90 L304.04,189.01 L304.66,189.11 L305.26,189.22 L305.85,189.34 L306.44,189.47 L307.04,189.61 L307.65,189.76 L308.25,189.90 L308.87,190.05 L309.49,190.19 L310.11,190.32 L310.74,190.43 L311.38,190.52 L312.02,190.59 L312.67,190.62 L313.30,190.64 L313.94,190.65 L314.59,190.65 L315.25,190.63 L315.91,190.60 L316.57,190.56 L317.24,190.49 L317.89,190.41 L318.55,190.29 L319.19,190.16 L319.82,189.99 L320.43,189.79 L321.03,189.56 L321.65,189.27 L322.26,188.94 L322.86,188.57 L323.45,188.17 L324.01,187.75 L324.56,187.29 L325.09,186.82 L325.59,186.33 L326.06,185.83 L326.51,185.31 L326.91,184.79 L327.29,184.25 L327.66,183.66 L327.98,183.04 L328.27,182.40 L328.52,181.75 L328.73,181.09 L328.91,180.41 L329.07,179.73 L329.19,179.04 L329.29,178.35 L329.37,177.65 L329.42,176.95 L329.45,176.35 L329.47,175.72 L329.46,175.09 L329.43,174.44 L329.39,173.79 L329.33,173.13 L329.25,172.48 L329.15,171.82 L329.03,171.17 L328.90,170.52 L328.74,169.88 L328.57,169.26 L328.38,168.64 L328.18,168.04 L327.95,167.43 L327.70,166.83 L327.43,166.23 L327.15,165.63 L326.84,165.04 L326.52,164.46 L326.19,163.89 L325.84,163.34 L325.48,162.81 L325.10,162.29 L324.71,161.81 L324.31,161.34 L323.82,160.83 L323.31,160.34 L322.77,159.87 L322.21,159.43 L321.64,159.02 L321.05,158.63 L320.44,158.28 L319.83,157.96 L319.20,157.67 L318.57,157.42 L317.93,157.21 L317.28,157.04 L316.60,156.91 L315.92,156.82 L315.22,156.77 L314.53,156.75 L313.83,156.76 L313.14,156.80 L312.46,156.87 L311.80,156.96 L311.15,157.07 L310.51,157.20 L309.83,157.37 L309.16,157.58 L308.49,157.82 L307.83,158.10 L307.19,158.40 L306.57,158.73 L305.97,159.08 L305.38,159.45 L304.82,159.85 L304.28,160.26 L303.76,160.71 L303.27,161.20 L302.83,161.72 L302.41,162.25 L302.01,162.79 L301.63,163.33 L301.26,163.86 L300.90,164.39 L300.53,164.90 L300.15,165.40 L299.74,165.92 L299.34,166.47 L298.96,167.02 L298.57,167.57 L298.19,168.10 L297.82,168.62 L297.44,169.09 L297.06,169.53 L296.68,169.92 L296.29,170.25 L295.76,170.63 L295.21,170.98 L294.64,171.28 L294.05,171.54 L293.47,171.75 L292.89,171.91 L292.31,172.02 L291.77,172.08 L291.23,172.06 L290.64,171.97 L290.01,171.82 L289.38,171.62 L288.75,171.39 L288.17,171.14 L287.63,170.89 L287.23,170.70 L286.60,170.26 L286.18,169.79 L285.84,169.30 L285.57,168.92Z" fill="#2E140C"/>
<path d="M288.54,210.08 L288.19,210.06 L287.76,210.04 L287.26,210.01 L286.70,209.98 L286.08,209.94 L285.42,209.91 L284.73,209.87 L284.03,209.84 L283.31,209.81 L282.60,209.78 L281.90,209.77 L281.22,209.76 L280.57,209.76 L279.98,209.78 L279.27,209.80 L278.58,209.81 L277.88,209.83 L277.19,209.85 L276.51,209.88 L275.83,209.94 L275.15,210.02 L274.48,210.13 L273.83,210.29 L273.18,210.49 L272.55,210.75 L271.96,211.05 L271.40,211.39 L270.87,211.75 L270.35,212.15 L269.86,212.59 L269.38,213.05 L268.92,213.55 L268.48,214.08 L268.05,214.64 L267.62,215.23 L267.21,215.85 L266.90,216.35 L266.60,216.89 L266.32,217.44 L266.05,218.02 L265.78,218.61 L265.53,219.22 L265.28,219.83 L265.03,220.46 L264.78,221.09 L264.54,221.72 L264.30,222.35 L264.06,222.98 L263.83,223.59 L263.58,224.19 L263.34,224.78 L263.09,225.38 L262.85,226.00 L262.62,226.62 L262.40,227.23 L262.18,227.85 L261.96,228.46 L261.74,229.07 L261.52,229.67 L261.30,230.26 L261.06,230.83 L260.82,231.39 L260.56,231.94 L260.30,232.46 L260.01,232.96 L259.71,233.45 L259.36,233.96 L258.99,234.48 L258.61,234.98 L258.22,235.47 L257.82,235.95 L257.41,236.42 L256.98,236.87 L256.54,237.30 L256.09,237.72 L255.63,238.12 L255.16,238.49 L254.68,238.85 L254.19,239.18 L253.69,239.49 L253.21,239.75 L252.72,239.98 L252.21,240.20 L251.69,240.39 L251.15,240.57 L250.59,240.74 L250.03,240.89 L249.44,241.03 L248.85,241.16 L248.25,241.29 L247.64,241.41 L247.02,241.53 L246.40,241.65 L245.77,241.77 L245.15,241.89 L244.56,242.00 L243.96,242.09 L243.34,242.16 L242.69,242.23 L242.03,242.29 L241.36,242.35 L240.68,242.40 L240.00,242.45 L239.33,242.51 L238.66,242.57 L238.01,242.64 L237.37,242.72 L236.75,242.81 L236.15,242.92 L235.58,243.06 L235.04,243.22 L234.28,243.49 L233.57,243.80 L232.93,244.13 L232.33,244.49 L231.78,244.88 L231.27,245.30 L230.80,245.74 L230.36,246.20 L229.94,246.69 L229.54,247.21 L229.18,247.72 L228.85,248.27 L228.55,248.83 L228.29,249.42 L228.04,250.02 L227.82,250.63 L227.62,251.26 L227.43,251.88 L227.25,252.52 L227.07,253.15 L226.90,253.80 L226.75,254.41 L226.63,255.03 L226.53,255.66 L226.44,256.28 L226.36,256.92 L226.29,257.55 L226.21,258.19 L226.14,258.83 L226.05,259.47 L225.95,260.11 L225.84,260.76 L225.69,261.42 L225.57,261.99 L225.44,262.58 L225.31,263.20 L225.17,263.83 L225.03,264.47 L224.89,265.12 L224.74,265.76 L224.58,266.39 L224.42,267.00 L224.24,267.59 L224.05,268.15 L223.86,268.67 L223.65,269.15 L223.45,269.58 L223.29,269.96 L222.96,270.50 L222.55,271.00 L222.05,271.46 L221.49,271.88 L220.90,272.26 L220.31,272.59 L219.75,272.90 L219.23,273.14 L218.78,273.32 L218.45,273.49 L218.55,273.71 L218.88,273.55 L219.32,273.37 L219.87,273.21 L220.50,273.04 L221.17,272.84 L221.87,272.60 L222.58,272.29 L223.28,271.90 L223.93,271.42 L224.51,270.84 L224.87,270.36 L225.15,269.85 L225.39,269.29 L225.61,268.70 L225.81,268.09 L226.00,267.45 L226.18,266.80 L226.34,266.15 L226.50,265.49 L226.65,264.83 L226.79,264.18 L226.92,263.54 L227.05,262.93 L227.18,262.34 L227.31,261.78 L227.45,261.08 L227.58,260.38 L227.68,259.70 L227.77,259.03 L227.85,258.38 L227.93,257.74 L228.00,257.11 L228.07,256.50 L228.16,255.90 L228.25,255.33 L228.36,254.76 L228.50,254.20 L228.67,253.58 L228.83,252.96 L229.01,252.35 L229.19,251.75 L229.38,251.17 L229.59,250.61 L229.80,250.07 L230.04,249.56 L230.29,249.07 L230.56,248.62 L230.86,248.19 L231.22,247.74 L231.59,247.31 L231.97,246.91 L232.36,246.54 L232.78,246.19 L233.23,245.87 L233.73,245.57 L234.28,245.29 L234.88,245.03 L235.56,244.78 L236.00,244.65 L236.49,244.54 L237.03,244.44 L237.60,244.35 L238.20,244.28 L238.82,244.21 L239.47,244.15 L240.13,244.10 L240.81,244.05 L241.49,243.99 L242.17,243.94 L242.85,243.87 L243.52,243.80 L244.19,243.72 L244.83,243.62 L245.45,243.51 L246.08,243.39 L246.71,243.27 L247.33,243.15 L247.96,243.03 L248.58,242.90 L249.20,242.78 L249.82,242.64 L250.43,242.49 L251.04,242.33 L251.64,242.15 L252.24,241.95 L252.82,241.73 L253.40,241.48 L253.96,241.21 L254.51,240.91 L255.08,240.57 L255.63,240.20 L256.16,239.80 L256.69,239.38 L257.19,238.95 L257.68,238.49 L258.16,238.02 L258.62,237.53 L259.07,237.03 L259.50,236.52 L259.92,235.99 L260.32,235.45 L260.71,234.91 L261.09,234.35 L261.43,233.81 L261.75,233.24 L262.05,232.66 L262.32,232.07 L262.58,231.47 L262.83,230.86 L263.07,230.25 L263.29,229.63 L263.51,229.02 L263.73,228.40 L263.95,227.79 L264.17,227.18 L264.39,226.59 L264.62,226.00 L264.86,225.42 L265.11,224.82 L265.36,224.20 L265.60,223.57 L265.85,222.94 L266.09,222.31 L266.33,221.68 L266.57,221.06 L266.81,220.45 L267.05,219.85 L267.30,219.27 L267.55,218.70 L267.80,218.17 L268.06,217.66 L268.32,217.19 L268.59,216.75 L268.98,216.17 L269.37,215.62 L269.76,215.11 L270.16,214.64 L270.57,214.20 L270.98,213.80 L271.40,213.43 L271.84,213.09 L272.29,212.78 L272.76,212.50 L273.25,212.25 L273.74,212.04 L274.26,211.88 L274.81,211.75 L275.39,211.65 L275.99,211.58 L276.61,211.53 L277.26,211.50 L277.93,211.48 L278.61,211.46 L279.32,211.45 L280.02,211.42 L280.60,211.41 L281.21,211.41 L281.87,211.42 L282.55,211.43 L283.25,211.46 L283.95,211.48 L284.65,211.52 L285.33,211.55 L285.99,211.59 L286.60,211.62 L287.17,211.66 L287.67,211.69 L288.11,211.71 L288.46,211.72Z" fill="#2E140C"/>
<path d="M303.9,247.7C304.9,247.1 307.6,244.9 309.9,244.2C312.2,243.4 315.1,243 317.8,243.2C320.5,243.4 323.3,244.8 325.8,245.2C328.3,245.6 330.6,245.9 332.7,245.7C334.8,245.4 337.3,245 338.7,243.7C340.1,242.4 340.9,239.8 341.2,237.8C341.5,235.8 341.3,233.6 340.7,231.8C340.1,230 338.6,228.8 337.7,226.8C336.8,224.8 335.7,222.7 335.2,219.9C334.7,217.1 334.5,213.1 334.7,209.9C334.9,206.7 335.2,203.4 336.2,200.9C337.2,198.4 338.9,196.2 340.7,195C342.4,193.8 344.9,193.4 346.7,193.5C348.5,193.6 350.3,194.4 351.6,195.5C352.9,196.6 353.7,198.7 354.6,200C355.5,201.3 356.4,202.9 356.8,203.5" fill="none" stroke="#2E140C" stroke-width="1.65" stroke-linecap="round" stroke-linejoin="round"/>
<path d="M266.86,282.90 L266.62,282.67 L266.32,282.38 L265.97,282.02 L265.58,281.60 L265.14,281.15 L264.68,280.67 L264.18,280.17 L263.66,279.67 L263.12,279.17 L262.56,278.69 L261.99,278.24 L261.42,277.82 L260.83,277.46 L260.25,277.15 L259.64,276.90 L259.03,276.68 L258.41,276.50 L257.79,276.36 L257.16,276.25 L256.52,276.17 L255.88,276.11 L255.23,276.07 L254.58,276.05 L253.92,276.04 L253.25,276.05 L252.57,276.06 L251.87,276.08 L251.29,276.10 L250.68,276.13 L250.05,276.18 L249.41,276.23 L248.76,276.30 L248.10,276.37 L247.44,276.46 L246.77,276.55 L246.11,276.66 L245.44,276.77 L244.78,276.89 L244.13,277.02 L243.50,277.15 L242.87,277.30 L242.26,277.45 L241.68,277.61 L241.02,277.80 L240.37,278.01 L239.73,278.24 L239.10,278.48 L238.48,278.74 L237.88,279.00 L237.29,279.27 L236.71,279.55 L236.15,279.82 L235.61,280.10 L235.08,280.38 L234.57,280.65 L234.07,280.92 L233.60,281.18 L232.97,281.53 L232.39,281.86 L231.84,282.20 L231.31,282.53 L230.81,282.87 L230.33,283.23 L229.85,283.60 L229.37,284.01 L228.90,284.44 L228.41,284.92 L228.00,285.35 L227.58,285.81 L227.15,286.30 L226.73,286.80 L226.31,287.32 L225.90,287.85 L225.50,288.40 L225.12,288.94 L224.75,289.49 L224.40,290.04 L224.07,290.58 L223.77,291.11 L223.45,291.75 L223.16,292.38 L222.91,293.02 L222.69,293.65 L222.50,294.28 L222.38,294.92 L222.27,295.55 L222.17,296.16 L222.08,296.77 L221.98,297.37 L221.88,298.08 L221.80,298.82 L221.73,299.58 L221.67,300.32 L221.63,301.04 L221.59,301.71 L221.51,302.30 L221.44,302.80 L221.38,303.18 L221.62,303.22 L221.68,302.84 L221.76,302.34 L221.86,301.75 L222.02,301.10 L222.19,300.41 L222.38,299.69 L222.58,298.97 L222.80,298.28 L223.02,297.63 L223.22,297.05 L223.42,296.48 L223.62,295.90 L223.84,295.32 L224.06,294.75 L224.25,294.18 L224.46,293.60 L224.68,293.03 L224.94,292.46 L225.23,291.89 L225.50,291.41 L225.80,290.91 L226.13,290.40 L226.48,289.88 L226.84,289.36 L227.22,288.85 L227.61,288.34 L228.01,287.85 L228.41,287.37 L228.81,286.91 L229.20,286.48 L229.59,286.08 L230.03,285.64 L230.47,285.24 L230.90,284.88 L231.32,284.54 L231.76,284.22 L232.22,283.91 L232.70,283.60 L233.22,283.29 L233.79,282.96 L234.40,282.62 L234.87,282.37 L235.35,282.10 L235.85,281.84 L236.36,281.57 L236.89,281.30 L237.43,281.03 L237.99,280.77 L238.55,280.51 L239.13,280.26 L239.71,280.02 L240.30,279.79 L240.90,279.57 L241.51,279.38 L242.12,279.19 L242.68,279.05 L243.25,278.90 L243.85,278.76 L244.47,278.63 L245.09,278.51 L245.73,278.39 L246.37,278.29 L247.02,278.18 L247.66,278.09 L248.30,278.01 L248.94,277.94 L249.57,277.87 L250.18,277.82 L250.78,277.78 L251.36,277.75 L251.93,277.72 L252.60,277.71 L253.27,277.70 L253.91,277.69 L254.54,277.70 L255.16,277.72 L255.76,277.75 L256.34,277.81 L256.90,277.88 L257.46,277.98 L258.00,278.10 L258.53,278.25 L259.05,278.44 L259.55,278.65 L260.01,278.89 L260.49,279.19 L260.99,279.55 L261.50,279.96 L262.02,280.41 L262.53,280.87 L263.02,281.35 L263.50,281.83 L263.96,282.30 L264.39,282.75 L264.79,283.16 L265.15,283.53 L265.47,283.85 L265.74,284.10Z" fill="#2E140C"/>
<path d="M266.8,304.3C265.6,304.4 262.7,304.6 259.9,304.8C257.1,305 252.6,305.1 249.9,305.7C247.2,306.3 245.6,307.4 243.9,308.7C242.2,310 240.7,312.1 240,313.7C239.3,315.3 239.2,316.7 239.5,318.5C239.8,320.3 240.4,322.7 241.5,324.5C242.6,326.3 245,327.9 245.8,329.5C246.6,331.1 246.8,332.4 246.5,334C246.2,335.6 245.3,337.5 244,339C242.7,340.5 239.4,342.5 238.5,343.2" fill="none" stroke="#2E140C" stroke-width="1.65" stroke-linecap="round" stroke-linejoin="round"/>
<path d="M367.2,172.3C368.2,172.3 371.1,172.2 373,172.3C374.9,172.4 377.2,172.4 378.9,173C380.6,173.6 382.3,174.7 383.3,175.9C384.3,177.1 384.7,178.9 384.8,180.4C384.9,181.9 384.4,183.7 384,185C383.6,186.3 383.6,186.9 382.2,188.5C380.8,190.1 377.2,192.8 375.9,194.8C374.6,196.8 373.9,198.8 374.3,200.5C374.7,202.2 376.2,203.9 378,205C379.8,206.1 382.2,206.6 385,207.2C387.8,207.8 391.8,208 394.7,208.8C397.6,209.7 400.1,211.6 402.3,212.3C404.5,213 406.4,213.2 408,212.8C409.6,212.4 411.2,211.2 412,209.9C412.8,208.6 413.2,206.6 413,204.9C412.8,203.2 411.8,201.6 411,199.9C410.2,198.2 408.3,196.6 408,194.9C407.7,193.2 407.8,191.5 409,190C410.2,188.5 412.4,186.8 415,186C417.6,185.2 421.6,185.4 424.9,185C428.2,184.6 432.2,184.2 434.6,183.3C437,182.4 437.9,181.1 439,179.6C440.1,178.1 440.9,176.2 441.3,174.5C441.7,172.8 441.7,171.3 441.3,169.4C440.9,167.5 439.4,164.2 439,163.1" fill="none" stroke="#0F2224" stroke-width="1.8" stroke-linecap="round" stroke-linejoin="round"/>
<path d="M411.43,201.10 L411.82,201.13 L412.33,201.16 L412.92,201.19 L413.57,201.22 L414.26,201.26 L414.98,201.32 L415.70,201.39 L416.40,201.49 L417.05,201.61 L417.66,201.77 L418.21,201.93 L418.79,202.12 L419.37,202.32 L419.95,202.53 L420.53,202.77 L421.08,203.02 L421.60,203.28 L422.08,203.56 L422.52,203.86 L422.90,204.17 L423.23,204.50 L423.53,204.89 L423.80,205.32 L424.03,205.79 L424.24,206.29 L424.41,206.84 L424.56,207.42 L424.69,208.04 L424.80,208.68 L424.91,209.34 L425.01,210.01 L425.06,210.51 L425.08,211.04 L425.08,211.61 L425.05,212.21 L425.01,212.83 L424.96,213.46 L424.92,214.11 L424.87,214.76 L424.84,215.42 L424.84,216.08 L424.86,216.72 L424.91,217.36 L425.02,217.98 L425.18,218.65 L425.36,219.30 L425.57,219.94 L425.81,220.57 L426.08,221.18 L426.37,221.77 L426.69,222.34 L427.04,222.89 L427.41,223.43 L427.81,223.94 L428.24,224.41 L428.69,224.87 L429.15,225.31 L429.64,225.74 L430.16,226.15 L430.71,226.53 L431.29,226.90 L431.90,227.23 L432.55,227.53 L433.24,227.79 L433.97,228.01 L434.72,228.18 L435.29,228.28 L435.90,228.37 L436.56,228.44 L437.26,228.51 L437.99,228.56 L438.73,228.59 L439.48,228.61 L440.24,228.61 L440.99,228.58 L441.72,228.54 L442.42,228.46 L443.09,228.36 L443.72,228.23 L444.31,228.05 L444.85,227.82 L445.39,227.48 L445.93,226.87 L446.24,226.10 L446.33,225.31 L446.30,224.52 L446.19,223.74 L446.04,222.96 L445.88,222.22 L445.74,221.52 L445.65,220.89 L445.62,220.39 L445.68,220.00 L445.85,219.44 L446.07,218.90 L446.31,218.42 L446.59,217.99 L446.91,217.60 L447.28,217.24 L447.72,216.90 L448.24,216.59 L448.64,216.39 L449.09,216.21 L449.59,216.05 L450.14,215.90 L450.73,215.78 L451.35,215.66 L452.00,215.56 L452.69,215.46 L453.41,215.37 L454.15,215.28 L454.90,215.19 L455.42,215.14 L455.98,215.11 L456.58,215.08 L457.20,215.06 L457.85,215.05 L458.52,215.05 L459.20,215.05 L459.88,215.04 L460.56,215.04 L461.24,215.03 L461.91,215.01 L462.55,214.98 L463.18,214.93 L463.79,214.87 L464.36,214.79 L464.91,214.68 L465.74,214.46 L466.52,214.20 L467.23,213.91 L467.89,213.58 L468.49,213.22 L469.04,212.80 L469.55,212.35 L470.01,211.86 L470.43,211.33 L470.78,210.80 L471.09,210.22 L471.37,209.62 L471.60,208.98 L471.79,208.32 L471.94,207.64 L472.05,206.95 L472.11,206.25 L472.13,205.54 L472.10,204.83 L472.02,204.19 L471.88,203.55 L471.69,202.91 L471.47,202.27 L471.23,201.63 L470.97,200.99 L470.70,200.37 L470.43,199.76 L470.17,199.18 L469.94,198.62 L469.73,198.10 L469.55,197.59 L469.27,196.86 L468.99,196.17 L468.71,195.56 L468.47,195.00 L468.28,194.48 L468.15,193.99 L468.09,193.50 L468.10,192.97 L468.17,192.54 L468.29,192.06 L468.47,191.56 L468.69,191.03 L468.96,190.47 L469.22,189.88 L469.48,189.25 L469.75,188.61 L470.02,187.94 L470.27,187.27 L470.49,186.68 L470.72,186.04 L470.97,185.36 L471.23,184.66 L471.50,183.95 L471.76,183.25 L472.02,182.57 L472.27,181.93 L472.51,181.34 L472.75,180.83 L472.96,180.40 L473.12,180.06 L472.88,179.94 L472.72,180.28 L472.51,180.72 L472.27,181.23 L471.96,181.78 L471.62,182.38 L471.25,183.01 L470.87,183.66 L470.50,184.32 L470.12,184.97 L469.76,185.59 L469.43,186.19 L469.13,186.73 L468.78,187.34 L468.42,187.92 L468.05,188.51 L467.69,189.09 L467.34,189.68 L467.05,190.29 L466.79,190.90 L466.57,191.53 L466.40,192.17 L466.30,192.83 L466.29,193.60 L466.39,194.34 L466.57,195.02 L466.80,195.66 L467.06,196.28 L467.34,196.89 L467.60,197.52 L467.85,198.21 L468.04,198.74 L468.27,199.31 L468.52,199.89 L468.78,200.49 L469.05,201.09 L469.31,201.69 L469.55,202.29 L469.78,202.88 L469.97,203.45 L470.13,203.99 L470.24,204.50 L470.30,204.97 L470.33,205.56 L470.31,206.15 L470.26,206.73 L470.17,207.31 L470.05,207.88 L469.89,208.42 L469.70,208.94 L469.48,209.42 L469.24,209.87 L468.97,210.27 L468.64,210.69 L468.29,211.07 L467.91,211.41 L467.48,211.72 L467.01,212.01 L466.49,212.27 L465.90,212.51 L465.24,212.73 L464.49,212.92 L464.06,213.01 L463.57,213.08 L463.03,213.14 L462.45,213.18 L461.84,213.21 L461.20,213.23 L460.54,213.24 L459.87,213.24 L459.19,213.25 L458.51,213.25 L457.83,213.25 L457.17,213.26 L456.52,213.28 L455.88,213.31 L455.27,213.35 L454.70,213.41 L453.93,213.50 L453.19,213.58 L452.46,213.68 L451.74,213.78 L451.05,213.89 L450.37,214.01 L449.72,214.15 L449.09,214.32 L448.49,214.51 L447.91,214.74 L447.36,215.01 L446.70,215.42 L446.11,215.87 L445.59,216.37 L445.14,216.92 L444.75,217.52 L444.42,218.16 L444.15,218.84 L443.92,219.60 L443.83,220.31 L443.86,221.06 L443.96,221.82 L444.11,222.58 L444.27,223.33 L444.41,224.04 L444.51,224.69 L444.53,225.25 L444.49,225.67 L444.39,225.93 L444.21,226.12 L444.04,226.21 L443.71,226.35 L443.28,226.48 L442.77,226.59 L442.19,226.68 L441.57,226.74 L440.90,226.78 L440.21,226.81 L439.50,226.81 L438.79,226.79 L438.09,226.76 L437.40,226.71 L436.75,226.65 L436.13,226.58 L435.57,226.50 L435.08,226.42 L434.43,226.27 L433.82,226.09 L433.25,225.87 L432.71,225.62 L432.19,225.34 L431.70,225.04 L431.24,224.70 L430.79,224.35 L430.36,223.98 L429.95,223.59 L429.56,223.19 L429.19,222.78 L428.85,222.35 L428.53,221.90 L428.24,221.42 L427.96,220.93 L427.71,220.42 L427.48,219.89 L427.27,219.34 L427.08,218.78 L426.92,218.20 L426.78,217.62 L426.70,217.13 L426.65,216.62 L426.64,216.06 L426.64,215.47 L426.67,214.86 L426.71,214.23 L426.76,213.59 L426.81,212.95 L426.85,212.30 L426.87,211.66 L426.88,211.02 L426.86,210.39 L426.79,209.79 L426.69,209.07 L426.58,208.38 L426.46,207.69 L426.31,207.01 L426.14,206.35 L425.93,205.69 L425.68,205.05 L425.37,204.44 L425.01,203.85 L424.57,203.30 L424.11,202.84 L423.60,202.42 L423.04,202.04 L422.46,201.70 L421.86,201.39 L421.23,201.11 L420.61,200.86 L419.97,200.62 L419.35,200.41 L418.74,200.22 L418.14,200.03 L417.44,199.85 L416.69,199.71 L415.92,199.61 L415.14,199.52 L414.39,199.46 L413.67,199.42 L413.01,199.39 L412.42,199.36 L411.94,199.33 L411.57,199.30Z" fill="#0F2224"/>
<path d="M444.8,226.8C445.5,227.6 447.7,229.7 448.8,231.7C449.9,233.7 451.2,236.4 451.2,238.9C451.2,241.4 450.1,244.6 448.7,246.5C447.2,248.4 444.8,249.5 442.5,250.3C440.2,251.1 436.2,251.3 434.9,251.5" fill="none" stroke="#0F2224" stroke-width="1.8" stroke-linecap="round" stroke-linejoin="round"/>
<path d="M359.5,225.1C360.4,224.7 362.3,223 364.6,222.6C366.9,222.2 370.7,222 373.4,222.6C376.1,223.2 378.2,225.6 380.9,226.4C383.6,227.2 387.2,228 389.7,227.6C392.2,227.2 394.3,225.6 396,223.9C397.7,222.2 398.8,219.5 399.7,217.6C400.6,215.7 401.2,213.3 401.5,212.5" fill="none" stroke="#0F2224" stroke-width="1.8" stroke-linecap="round" stroke-linejoin="round"/>
<path d="M470.33,241.36 L470.22,241.02 L470.07,240.59 L469.91,240.09 L469.77,239.51 L469.62,238.87 L469.47,238.20 L469.31,237.50 L469.16,236.79 L469.01,236.07 L468.88,235.37 L468.77,234.69 L468.69,234.05 L468.62,233.47 L468.54,232.98 L468.50,232.57 L468.50,231.84 L468.57,231.22 L468.69,230.69 L468.87,230.21 L469.11,229.77 L469.42,229.35 L469.81,228.92 L470.29,228.48 L470.64,228.20 L471.07,227.92 L471.55,227.63 L472.09,227.34 L472.66,227.06 L473.26,226.80 L473.87,226.55 L474.49,226.32 L475.10,226.12 L475.69,225.94 L476.25,225.80 L476.76,225.69 L477.35,225.59 L477.92,225.55 L478.48,225.54 L479.05,225.56 L479.61,225.61 L480.17,225.69 L480.72,225.79 L481.28,225.91 L481.83,226.04 L482.39,226.17 L483.02,226.32 L483.63,226.47 L484.23,226.61 L484.79,226.77 L485.32,226.96 L485.80,227.18 L486.23,227.44 L486.63,227.76 L487.00,228.17 L487.23,228.49 L487.46,228.89 L487.68,229.35 L487.89,229.85 L488.10,230.40 L488.29,230.99 L488.47,231.59 L488.65,232.21 L488.81,232.85 L488.97,233.48 L489.13,234.11 L489.28,234.72 L489.42,235.30 L489.55,235.89 L489.63,236.49 L489.68,237.11 L489.72,237.76 L489.74,238.42 L489.77,239.09 L489.81,239.77 L489.88,240.45 L489.99,241.12 L490.16,241.79 L490.40,242.45 L490.73,243.07 L491.14,243.65 L491.60,244.18 L492.11,244.67 L492.66,245.14 L493.25,245.58 L493.85,245.99 L494.47,246.37 L495.09,246.72 L495.71,247.04 L496.32,247.34 L496.90,247.60 L497.48,247.84 L498.18,248.08 L498.88,248.24 L499.57,248.35 L500.25,248.40 L500.91,248.42 L501.55,248.43 L502.17,248.42 L502.76,248.43 L503.34,248.45 L503.91,248.50 L504.59,248.58 L505.33,248.67 L506.09,248.77 L506.84,248.88 L507.57,248.98 L508.25,249.08 L508.86,249.16 L509.38,249.24 L509.78,249.29 L510.02,247.51 L509.63,247.45 L509.12,247.38 L508.51,247.29 L507.82,247.20 L507.09,247.09 L506.33,246.99 L505.56,246.89 L504.81,246.79 L504.09,246.70 L503.45,246.65 L502.80,246.63 L502.17,246.62 L501.55,246.63 L500.94,246.63 L500.35,246.61 L499.78,246.56 L499.22,246.48 L498.67,246.35 L498.12,246.16 L497.62,245.95 L497.08,245.71 L496.52,245.44 L495.95,245.14 L495.38,244.82 L494.83,244.48 L494.29,244.11 L493.79,243.73 L493.32,243.34 L492.91,242.94 L492.55,242.53 L492.27,242.13 L492.05,241.72 L491.88,241.26 L491.76,240.76 L491.67,240.21 L491.61,239.62 L491.57,239.00 L491.54,238.35 L491.51,237.67 L491.48,236.98 L491.42,236.29 L491.32,235.58 L491.18,234.90 L491.03,234.29 L490.88,233.68 L490.72,233.05 L490.56,232.40 L490.38,231.74 L490.20,231.09 L490.01,230.44 L489.80,229.81 L489.57,229.19 L489.32,228.60 L489.05,228.05 L488.75,227.52 L488.40,227.03 L487.87,226.45 L487.27,225.97 L486.64,225.59 L485.99,225.29 L485.34,225.06 L484.69,224.87 L484.05,224.71 L483.42,224.57 L482.81,224.43 L482.25,224.29 L481.67,224.15 L481.07,224.02 L480.45,223.91 L479.82,223.82 L479.17,223.76 L478.50,223.74 L477.83,223.75 L477.13,223.81 L476.44,223.91 L475.83,224.05 L475.20,224.21 L474.55,224.40 L473.89,224.62 L473.22,224.87 L472.56,225.14 L471.90,225.43 L471.27,225.73 L470.67,226.06 L470.10,226.40 L469.58,226.75 L469.11,227.12 L468.54,227.65 L468.03,228.21 L467.59,228.81 L467.24,229.46 L466.97,230.17 L466.79,230.93 L466.71,231.75 L466.70,232.63 L466.75,233.20 L466.85,233.81 L467.04,234.44 L467.28,235.09 L467.55,235.76 L467.84,236.44 L468.15,237.12 L468.46,237.79 L468.78,238.44 L469.08,239.07 L469.37,239.65 L469.63,240.19 L469.82,240.68 L469.96,241.10 L470.07,241.44Z" fill="#0F2224"/>
<path d="M373.22,243.11 L373.44,243.40 L373.72,243.77 L374.04,244.20 L374.41,244.69 L374.81,245.22 L375.23,245.79 L375.68,246.37 L376.13,246.96 L376.58,247.55 L377.03,248.13 L377.39,248.57 L377.77,249.02 L378.16,249.46 L378.56,249.90 L378.96,250.35 L379.36,250.80 L379.76,251.25 L380.16,251.72 L380.55,252.19 L380.92,252.68 L381.29,253.18 L381.64,253.70 L381.97,254.24 L382.26,254.73 L382.55,255.25 L382.84,255.79 L383.14,256.34 L383.43,256.90 L383.71,257.48 L383.98,258.06 L384.25,258.65 L384.50,259.25 L384.75,259.84 L384.97,260.44 L385.18,261.03 L385.36,261.63 L385.53,262.21 L385.67,262.79 L385.79,263.37 L385.89,263.98 L385.98,264.60 L386.04,265.24 L386.10,265.88 L386.13,266.53 L386.16,267.18 L386.17,267.82 L386.16,268.46 L386.15,269.07 L386.13,269.68 L386.09,270.25 L386.05,270.80 L386.01,271.32 L385.96,271.80 L385.85,272.61 L385.74,273.29 L385.62,273.87 L385.46,274.37 L385.26,274.83 L384.99,275.29 L384.64,275.78 L384.16,276.34 L383.86,276.66 L383.50,277.00 L383.11,277.35 L382.69,277.70 L382.23,278.05 L381.75,278.41 L381.25,278.77 L380.72,279.13 L380.18,279.48 L379.63,279.83 L379.08,280.17 L378.51,280.51 L377.95,280.84 L377.39,281.16 L376.90,281.42 L376.40,281.67 L375.87,281.91 L375.33,282.14 L374.77,282.38 L374.20,282.60 L373.63,282.83 L373.04,283.06 L372.46,283.28 L371.87,283.52 L371.28,283.75 L370.70,283.99 L370.13,284.24 L369.57,284.50 L369.02,284.77 L368.49,285.05 L367.92,285.38 L367.36,285.69 L366.81,286.01 L366.27,286.33 L365.73,286.66 L365.20,287.00 L364.68,287.34 L364.16,287.70 L363.66,288.07 L363.16,288.46 L362.68,288.87 L362.20,289.30 L361.73,289.75 L361.28,290.22 L360.86,290.69 L360.45,291.17 L360.05,291.66 L359.66,292.18 L359.28,292.71 L358.90,293.25 L358.54,293.81 L358.19,294.37 L357.85,294.94 L357.52,295.52 L357.20,296.11 L356.91,296.70 L356.62,297.29 L356.36,297.89 L356.11,298.48 L355.88,299.08 L355.66,299.68 L355.46,300.29 L355.27,300.90 L355.10,301.52 L354.94,302.15 L354.79,302.78 L354.66,303.41 L354.54,304.05 L354.44,304.70 L354.35,305.35 L354.28,306.00 L354.22,306.65 L354.18,307.31 L354.15,307.97 L354.13,308.59 L354.13,309.22 L354.12,309.86 L354.13,310.51 L354.15,311.17 L354.18,311.83 L354.23,312.49 L354.29,313.16 L354.37,313.83 L354.47,314.50 L354.58,315.17 L354.72,315.83 L354.88,316.49 L355.06,317.14 L355.27,317.78 L355.51,318.41 L355.74,318.97 L355.99,319.51 L356.26,320.06 L356.55,320.60 L356.85,321.14 L357.17,321.67 L357.50,322.20 L357.85,322.72 L358.22,323.24 L358.59,323.75 L358.98,324.25 L359.39,324.74 L359.80,325.23 L360.23,325.71 L360.66,326.18 L361.11,326.64 L361.56,327.09 L362.02,327.52 L362.47,327.93 L362.94,328.34 L363.43,328.75 L363.93,329.16 L364.45,329.56 L364.98,329.95 L365.52,330.34 L366.07,330.72 L366.62,331.10 L367.19,331.46 L367.75,331.81 L368.33,332.14 L368.90,332.46 L369.48,332.77 L370.05,333.06 L370.63,333.33 L371.20,333.57 L371.76,333.80 L372.33,334.01 L372.99,334.22 L373.66,334.40 L374.33,334.55 L375.01,334.68 L375.68,334.78 L376.36,334.85 L377.03,334.90 L377.70,334.94 L378.36,334.95 L379.02,334.95 L379.67,334.93 L380.32,334.89 L380.96,334.84 L381.58,334.79 L382.20,334.72 L382.81,334.64 L383.47,334.55 L384.12,334.43 L384.77,334.30 L385.41,334.15 L386.05,333.98 L386.68,333.79 L387.31,333.59 L387.93,333.37 L388.54,333.14 L389.14,332.89 L389.73,332.62 L390.30,332.34 L390.87,332.05 L391.42,331.74 L391.95,331.42 L392.51,331.06 L393.07,330.67 L393.61,330.25 L394.14,329.82 L394.66,329.37 L395.16,328.91 L395.65,328.43 L396.12,327.94 L396.57,327.44 L397.00,326.93 L397.42,326.42 L397.81,325.90 L398.15,325.36 L398.45,324.80 L398.74,324.16 L399.00,323.49 L399.22,322.78 L399.40,322.07 L399.56,321.35 L399.70,320.64 L399.82,319.95 L399.92,319.29 L400.01,318.66 L400.10,318.09 L400.21,317.59 L400.32,317.17 L400.42,316.84 L400.18,316.76 L400.08,317.11 L399.97,317.53 L399.85,318.03 L399.67,318.58 L399.46,319.17 L399.24,319.80 L399.00,320.44 L398.74,321.10 L398.46,321.75 L398.16,322.37 L397.84,322.97 L397.51,323.51 L397.15,324.00 L396.80,324.44 L396.43,324.90 L396.08,325.37 L395.69,325.85 L395.29,326.32 L394.88,326.78 L394.44,327.23 L393.99,327.68 L393.52,328.11 L393.05,328.52 L392.56,328.92 L392.06,329.29 L391.56,329.65 L391.05,329.98 L390.56,330.27 L390.06,330.55 L389.54,330.82 L389.01,331.08 L388.46,331.33 L387.91,331.56 L387.34,331.78 L386.77,331.98 L386.18,332.17 L385.59,332.34 L385.00,332.50 L384.40,332.64 L383.80,332.76 L383.19,332.87 L382.59,332.96 L382.01,333.03 L381.41,333.10 L380.81,333.15 L380.21,333.20 L379.60,333.23 L378.99,333.25 L378.37,333.25 L377.75,333.24 L377.14,333.21 L376.52,333.16 L375.90,333.09 L375.29,333.00 L374.68,332.89 L374.07,332.75 L373.47,332.59 L372.87,332.39 L372.37,332.21 L371.85,332.01 L371.33,331.78 L370.79,331.53 L370.26,331.26 L369.71,330.97 L369.17,330.67 L368.63,330.35 L368.09,330.02 L367.55,329.67 L367.02,329.32 L366.50,328.96 L365.98,328.58 L365.48,328.21 L364.99,327.82 L364.51,327.44 L364.05,327.05 L363.60,326.66 L363.18,326.28 L362.74,325.86 L362.31,325.44 L361.89,325.01 L361.48,324.57 L361.08,324.12 L360.69,323.66 L360.32,323.19 L359.95,322.72 L359.60,322.24 L359.25,321.76 L358.93,321.27 L358.62,320.78 L358.32,320.28 L358.04,319.78 L357.77,319.28 L357.53,318.78 L357.30,318.28 L357.09,317.79 L356.88,317.22 L356.69,316.65 L356.52,316.06 L356.38,315.46 L356.25,314.85 L356.15,314.23 L356.06,313.61 L355.98,312.99 L355.93,312.36 L355.88,311.73 L355.85,311.10 L355.83,310.47 L355.82,309.85 L355.83,309.24 L355.83,308.63 L355.85,308.03 L355.88,307.40 L355.92,306.78 L355.97,306.17 L356.04,305.56 L356.12,304.95 L356.22,304.34 L356.33,303.74 L356.45,303.14 L356.59,302.55 L356.74,301.97 L356.90,301.38 L357.08,300.81 L357.27,300.24 L357.47,299.67 L357.69,299.12 L357.92,298.56 L358.17,298.01 L358.43,297.45 L358.71,296.89 L359.01,296.34 L359.32,295.80 L359.64,295.25 L359.97,294.72 L360.31,294.20 L360.66,293.69 L361.02,293.19 L361.39,292.71 L361.76,292.25 L362.14,291.80 L362.52,291.38 L362.94,290.95 L363.36,290.54 L363.79,290.15 L364.23,289.78 L364.69,289.42 L365.16,289.08 L365.63,288.75 L366.12,288.42 L366.63,288.10 L367.14,287.79 L367.67,287.48 L368.20,287.17 L368.75,286.86 L369.31,286.55 L369.80,286.28 L370.30,286.03 L370.83,285.79 L371.37,285.56 L371.93,285.32 L372.50,285.10 L373.07,284.87 L373.66,284.64 L374.24,284.42 L374.83,284.18 L375.42,283.95 L376.00,283.71 L376.57,283.46 L377.13,283.20 L377.68,282.93 L378.21,282.64 L378.79,282.31 L379.38,281.98 L379.96,281.63 L380.53,281.27 L381.11,280.91 L381.67,280.54 L382.22,280.17 L382.75,279.79 L383.26,279.41 L383.75,279.02 L384.22,278.64 L384.66,278.25 L385.06,277.86 L385.44,277.46 L385.97,276.83 L386.42,276.22 L386.77,275.60 L387.05,274.97 L387.26,274.31 L387.41,273.61 L387.54,272.85 L387.64,272.00 L387.70,271.49 L387.75,270.94 L387.79,270.36 L387.83,269.76 L387.85,269.13 L387.86,268.48 L387.87,267.81 L387.86,267.14 L387.83,266.45 L387.79,265.76 L387.74,265.08 L387.66,264.39 L387.57,263.72 L387.46,263.06 L387.33,262.41 L387.17,261.78 L386.99,261.14 L386.79,260.50 L386.57,259.86 L386.33,259.22 L386.07,258.59 L385.81,257.97 L385.53,257.35 L385.24,256.74 L384.94,256.14 L384.64,255.55 L384.34,254.98 L384.04,254.43 L383.73,253.89 L383.43,253.36 L383.07,252.77 L382.68,252.20 L382.28,251.66 L381.88,251.13 L381.46,250.63 L381.05,250.14 L380.63,249.67 L380.22,249.21 L379.82,248.77 L379.43,248.33 L379.06,247.91 L378.70,247.49 L378.37,247.07 L377.93,246.51 L377.48,245.93 L377.03,245.34 L376.59,244.76 L376.17,244.20 L375.77,243.67 L375.40,243.18 L375.08,242.75 L374.80,242.38 L374.58,242.09Z" fill="#30260F"/>
<path d="M385.8,276.9C386.8,277.7 389.4,280.7 391.7,281.9C394,283.1 396.7,283.9 399.7,283.9C402.7,283.9 407,283.1 409.7,281.9C412.4,280.7 414.5,278.6 415.6,276.9C416.8,275.2 417.1,273.6 416.6,271.9C416.1,270.2 413.9,268.7 412.6,266.9C411.3,265.1 408.9,262.6 408.7,261C408.5,259.4 409.7,258.1 411.6,257C413.6,255.9 417.7,255.4 420.4,254.5C423.1,253.6 426.6,252 427.9,251.5" fill="none" stroke="#30260F" stroke-width="1.7" stroke-linecap="round" stroke-linejoin="round"/>
<path d="M416.02,277.64 L416.33,277.46 L416.73,277.24 L417.20,276.97 L417.72,276.67 L418.29,276.35 L418.89,276.01 L419.51,275.67 L420.14,275.32 L420.78,274.98 L421.40,274.65 L421.92,274.37 L422.47,274.07 L423.03,273.77 L423.60,273.45 L424.17,273.14 L424.75,272.83 L425.33,272.52 L425.91,272.24 L426.48,271.97 L427.05,271.72 L427.61,271.50 L428.16,271.31 L428.77,271.12 L429.39,270.95 L430.02,270.80 L430.65,270.67 L431.27,270.55 L431.89,270.46 L432.51,270.39 L433.11,270.34 L433.70,270.32 L434.28,270.32 L434.83,270.35 L435.44,270.41 L436.05,270.51 L436.66,270.63 L437.26,270.79 L437.85,270.97 L438.42,271.18 L438.97,271.40 L439.49,271.65 L439.98,271.92 L440.43,272.21 L440.90,272.55 L441.36,272.91 L441.79,273.30 L442.18,273.71 L442.55,274.15 L442.87,274.61 L443.15,275.10 L443.39,275.61 L443.59,276.15 L443.69,276.58 L443.75,277.08 L443.76,277.62 L443.75,278.22 L443.71,278.84 L443.66,279.50 L443.60,280.18 L443.55,280.87 L443.51,281.57 L443.51,282.28 L443.55,282.97 L443.61,283.62 L443.67,284.28 L443.74,284.95 L443.81,285.63 L443.90,286.32 L444.00,287.01 L444.14,287.69 L444.30,288.37 L444.50,289.03 L444.75,289.68 L445.05,290.30 L445.38,290.88 L445.75,291.44 L446.15,291.99 L446.58,292.52 L447.05,293.02 L447.54,293.51 L448.06,293.97 L448.61,294.41 L449.18,294.82 L449.78,295.20 L450.40,295.55 L450.96,295.83 L451.54,296.08 L452.15,296.32 L452.78,296.54 L453.43,296.73 L454.09,296.91 L454.76,297.07 L455.43,297.22 L456.11,297.34 L456.78,297.44 L457.45,297.53 L458.10,297.60 L458.75,297.65 L459.39,297.68 L460.05,297.68 L460.70,297.66 L461.36,297.63 L462.02,297.57 L462.67,297.50 L463.31,297.41 L463.95,297.30 L464.58,297.19 L465.19,297.06 L465.79,296.92 L466.37,296.77 L466.95,296.61 L467.62,296.39 L468.27,296.13 L468.90,295.83 L469.51,295.52 L470.09,295.19 L470.65,294.87 L471.18,294.55 L471.66,294.23 L472.10,293.89 L472.52,293.59 L472.90,293.35 L473.66,292.96 L474.41,292.64 L475.12,292.39 L475.76,292.19 L476.31,292.10 L476.72,292.03 L476.68,291.77 L476.27,291.85 L475.72,291.92 L475.03,291.93 L474.25,291.98 L473.40,292.08 L472.50,292.25 L471.96,292.41 L471.41,292.60 L470.86,292.82 L470.31,293.09 L469.78,293.40 L469.25,293.72 L468.70,294.02 L468.15,294.31 L467.59,294.57 L467.03,294.80 L466.45,294.99 L465.94,295.13 L465.39,295.27 L464.83,295.40 L464.25,295.52 L463.66,295.63 L463.06,295.73 L462.46,295.81 L461.85,295.88 L461.24,295.93 L460.63,295.97 L460.03,295.98 L459.44,295.98 L458.85,295.95 L458.26,295.91 L457.64,295.84 L457.02,295.76 L456.39,295.66 L455.76,295.55 L455.13,295.41 L454.51,295.27 L453.90,295.10 L453.31,294.92 L452.74,294.72 L452.19,294.51 L451.68,294.29 L451.20,294.05 L450.66,293.74 L450.14,293.41 L449.64,293.05 L449.16,292.67 L448.70,292.27 L448.27,291.84 L447.87,291.40 L447.49,290.94 L447.15,290.47 L446.83,289.99 L446.55,289.50 L446.31,289.01 L446.11,288.48 L445.94,287.92 L445.80,287.33 L445.68,286.71 L445.58,286.08 L445.50,285.44 L445.43,284.78 L445.37,284.12 L445.31,283.47 L445.25,282.83 L445.21,282.23 L445.21,281.61 L445.24,280.97 L445.29,280.31 L445.35,279.64 L445.41,278.97 L445.45,278.29 L445.46,277.62 L445.44,276.95 L445.36,276.29 L445.21,275.65 L444.96,274.96 L444.66,274.31 L444.30,273.69 L443.90,273.12 L443.45,272.58 L442.97,272.08 L442.47,271.62 L441.93,271.19 L441.37,270.79 L440.84,270.46 L440.26,270.14 L439.66,269.85 L439.04,269.59 L438.39,269.36 L437.72,269.15 L437.04,268.98 L436.36,268.83 L435.66,268.72 L434.97,268.65 L434.32,268.62 L433.67,268.62 L433.01,268.64 L432.34,268.70 L431.67,268.77 L430.99,268.88 L430.31,269.00 L429.64,269.14 L428.97,269.31 L428.30,269.49 L427.64,269.69 L427.02,269.90 L426.40,270.15 L425.78,270.42 L425.17,270.71 L424.56,271.01 L423.95,271.32 L423.36,271.64 L422.77,271.96 L422.21,272.28 L421.65,272.58 L421.12,272.87 L420.60,273.15 L419.97,273.48 L419.33,273.83 L418.69,274.18 L418.06,274.53 L417.45,274.87 L416.88,275.20 L416.36,275.49 L415.89,275.76 L415.50,275.98 L415.18,276.16Z" fill="#30260F"/>
<path d="M302.7,316C303.1,317.6 303.7,322.9 305.2,325.8C306.7,328.7 309,331.6 311.5,333.3C314,335 317.6,336.2 320.3,335.8C323,335.4 325.9,333.3 327.8,330.8C329.7,328.3 330.3,323.7 331.6,320.8C332.9,317.9 333.5,315.3 335.4,313.2C337.3,311.1 340.4,308.6 342.9,308.2C345.4,307.8 348.5,309.4 350.4,310.7C352.3,311.9 353.6,314.9 354.2,315.7" fill="none" stroke="#30260F" stroke-width="1.7" stroke-linecap="round" stroke-linejoin="round"/>
<path d="M428.32,309.83 L428.43,309.41 L428.60,308.84 L428.88,308.16 L429.14,307.41 L429.33,306.59 L429.39,305.75 L429.36,305.10 L429.29,304.43 L429.17,303.72 L429.01,302.98 L428.76,302.26 L428.42,301.56 L428.02,300.89 L427.57,300.28 L427.17,299.80 L426.73,299.35 L426.27,298.90 L425.77,298.47 L425.24,298.06 L424.69,297.67 L424.11,297.32 L423.51,297.00 L422.89,296.72 L422.26,296.49 L421.65,296.33 L421.02,296.20 L420.38,296.12 L419.72,296.06 L419.06,296.04 L418.40,296.04 L417.74,296.07 L417.08,296.12 L416.45,296.18 L415.83,296.27 L415.24,296.36 L414.55,296.51 L413.84,296.68 L413.15,296.88 L412.46,297.11 L411.79,297.38 L411.15,297.69 L410.53,298.04 L409.96,298.43 L409.42,298.88 L408.94,299.37 L408.51,299.92 L408.12,300.51 L407.78,301.12 L407.48,301.76 L407.22,302.40 L407.00,303.05 L406.82,303.69 L406.67,304.33 L406.56,304.98 L406.50,305.65 L406.49,306.31 L406.52,306.96 L406.57,307.62 L406.65,308.26 L406.75,308.90 L406.85,309.53 L406.96,310.16 L407.09,310.78 L407.22,311.42 L407.38,312.06 L407.55,312.70 L407.75,313.34 L407.96,313.98 L408.20,314.61 L408.45,315.24 L408.73,315.85 L408.98,316.39 L409.22,316.91 L409.48,317.44 L409.75,317.97 L410.05,318.51 L410.38,319.05 L410.76,319.60 L411.19,320.14 L411.67,320.68 L412.22,321.22 L412.65,321.59 L413.12,321.95 L413.62,322.29 L414.14,322.63 L414.68,322.96 L415.23,323.28 L415.79,323.60 L416.35,323.92 L416.91,324.25 L417.46,324.57 L418.00,324.90 L418.51,325.22 L418.99,325.56 L419.43,325.89 L419.84,326.24 L420.30,326.66 L420.76,327.09 L421.20,327.54 L421.63,327.98 L422.05,328.43 L422.44,328.89 L422.82,329.36 L423.18,329.83 L423.52,330.30 L423.83,330.78 L424.12,331.27 L424.39,331.76 L424.62,332.25 L424.86,332.80 L425.06,333.37 L425.24,333.97 L425.40,334.58 L425.53,335.20 L425.64,335.83 L425.73,336.46 L425.79,337.09 L425.84,337.71 L425.86,338.31 L425.87,338.90 L425.85,339.45 L425.79,340.09 L425.66,340.76 L425.49,341.45 L425.27,342.15 L425.03,342.83 L424.78,343.49 L424.54,344.10 L424.32,344.65 L424.13,345.14 L424.00,345.52 L425.60,346.08 L425.72,345.73 L425.90,345.28 L426.12,344.73 L426.37,344.10 L426.63,343.42 L426.89,342.68 L427.12,341.91 L427.32,341.13 L427.47,340.33 L427.55,339.55 L427.57,338.92 L427.56,338.27 L427.54,337.61 L427.49,336.94 L427.42,336.26 L427.32,335.57 L427.20,334.88 L427.05,334.19 L426.88,333.51 L426.67,332.84 L426.44,332.18 L426.18,331.55 L425.90,330.98 L425.60,330.43 L425.27,329.88 L424.92,329.34 L424.55,328.82 L424.16,328.30 L423.74,327.80 L423.32,327.30 L422.87,326.82 L422.41,326.34 L421.94,325.87 L421.46,325.42 L420.96,324.96 L420.49,324.56 L419.98,324.18 L419.45,323.81 L418.90,323.46 L418.34,323.11 L417.77,322.78 L417.20,322.45 L416.63,322.13 L416.08,321.81 L415.55,321.50 L415.04,321.19 L414.56,320.88 L414.12,320.57 L413.72,320.27 L413.38,319.98 L412.90,319.51 L412.49,319.05 L412.13,318.58 L411.80,318.12 L411.51,317.65 L411.25,317.17 L411.00,316.68 L410.76,316.18 L410.52,315.67 L410.27,315.15 L410.01,314.57 L409.78,314.00 L409.56,313.41 L409.37,312.83 L409.19,312.23 L409.03,311.64 L408.88,311.04 L408.75,310.44 L408.64,309.84 L408.53,309.24 L408.42,308.63 L408.33,308.03 L408.26,307.44 L408.21,306.86 L408.19,306.29 L408.20,305.73 L408.25,305.19 L408.33,304.67 L408.46,304.12 L408.62,303.56 L408.82,302.99 L409.04,302.44 L409.29,301.90 L409.58,301.39 L409.89,300.92 L410.22,300.49 L410.58,300.12 L410.98,299.79 L411.43,299.48 L411.93,299.20 L412.48,298.94 L413.06,298.71 L413.66,298.50 L414.28,298.32 L414.92,298.17 L415.56,298.04 L416.09,297.95 L416.65,297.87 L417.23,297.81 L417.83,297.77 L418.43,297.74 L419.03,297.74 L419.62,297.76 L420.20,297.81 L420.75,297.88 L421.27,297.98 L421.74,298.11 L422.25,298.29 L422.76,298.52 L423.26,298.79 L423.75,299.09 L424.23,299.43 L424.69,299.79 L425.12,300.16 L425.53,300.55 L425.90,300.94 L426.23,301.32 L426.60,301.83 L426.92,302.37 L427.21,302.96 L427.49,303.55 L427.78,304.15 L428.03,304.74 L428.24,305.32 L428.41,305.85 L428.53,306.56 L428.54,307.31 L428.47,308.06 L428.36,308.76 L428.18,309.34 L428.08,309.77Z" fill="#30260F"/>
<path d="M343.39,342.13 L343.76,342.15 L344.23,342.16 L344.77,342.20 L345.39,342.28 L346.05,342.37 L346.74,342.47 L347.45,342.59 L348.16,342.72 L348.86,342.88 L349.51,343.06 L350.10,343.25 L350.65,343.41 L351.19,343.60 L351.75,343.81 L352.30,344.04 L352.86,344.30 L353.40,344.58 L353.93,344.88 L354.44,345.19 L354.93,345.52 L355.39,345.87 L355.82,346.22 L356.21,346.59 L356.56,346.96 L356.91,347.39 L357.25,347.86 L357.56,348.36 L357.84,348.89 L358.10,349.43 L358.32,349.99 L358.50,350.55 L358.65,351.11 L358.76,351.66 L358.83,352.19 L358.85,352.70 L358.83,353.23 L358.77,353.79 L358.68,354.38 L358.55,354.97 L358.38,355.55 L358.17,356.12 L357.93,356.66 L357.65,357.16 L357.35,357.62 L357.02,358.01 L356.66,358.34 L356.30,358.60 L355.90,358.83 L355.45,359.03 L354.95,359.21 L354.41,359.37 L353.83,359.50 L353.21,359.61 L352.56,359.70 L351.87,359.78 L351.16,359.84 L350.41,359.90 L349.65,359.95 L349.14,359.97 L348.61,359.98 L348.05,359.97 L347.46,359.94 L346.86,359.91 L346.24,359.86 L345.60,359.81 L344.95,359.75 L344.29,359.69 L343.63,359.62 L342.96,359.56 L342.29,359.50 L341.62,359.45 L340.95,359.40 L340.29,359.37 L339.64,359.35 L339.00,359.34 L338.38,359.35 L337.69,359.38 L337.01,359.41 L336.33,359.44 L335.64,359.49 L334.96,359.54 L334.28,359.60 L333.61,359.66 L332.94,359.74 L332.28,359.82 L331.63,359.91 L330.99,360.01 L330.37,360.13 L329.76,360.25 L329.17,360.38 L328.60,360.53 L328.05,360.69 L327.36,360.91 L326.68,361.15 L326.03,361.41 L325.40,361.69 L324.79,361.98 L324.21,362.30 L323.66,362.64 L323.13,363.00 L322.64,363.38 L322.17,363.78 L321.74,364.21 L321.34,364.67 L320.91,365.26 L320.53,365.89 L320.21,366.56 L319.94,367.25 L319.72,367.96 L319.54,368.68 L319.41,369.40 L319.32,370.11 L319.27,370.81 L319.25,371.51 L319.28,372.21 L319.38,372.92 L319.52,373.63 L319.71,374.32 L319.93,375.01 L320.17,375.68 L320.43,376.33 L320.70,376.96 L320.96,377.57 L321.23,378.17 L321.57,378.82 L321.95,379.45 L322.35,380.03 L322.76,380.58 L323.16,381.11 L323.54,381.62 L323.88,382.12 L324.17,382.62 L324.41,383.13 L324.62,383.69 L324.80,384.34 L324.96,385.04 L325.10,385.75 L325.22,386.46 L325.32,387.12 L325.41,387.73 L325.49,388.25 L325.56,388.65 L327.24,388.35 L327.17,387.98 L327.09,387.48 L327.00,386.87 L326.90,386.18 L326.77,385.45 L326.62,384.68 L326.45,383.92 L326.24,383.18 L325.99,382.47 L325.68,381.82 L325.32,381.21 L324.93,380.64 L324.52,380.09 L324.12,379.56 L323.74,379.04 L323.37,378.52 L323.05,377.99 L322.77,377.43 L322.52,376.88 L322.26,376.29 L322.00,375.68 L321.76,375.07 L321.54,374.46 L321.34,373.84 L321.18,373.24 L321.05,372.64 L320.98,372.06 L320.95,371.49 L320.97,370.90 L321.01,370.28 L321.09,369.66 L321.21,369.03 L321.36,368.41 L321.54,367.81 L321.77,367.24 L322.03,366.69 L322.32,366.19 L322.66,365.73 L322.98,365.38 L323.33,365.03 L323.71,364.69 L324.13,364.37 L324.58,364.07 L325.06,363.77 L325.57,363.49 L326.11,363.23 L326.68,362.98 L327.28,362.74 L327.90,362.52 L328.55,362.31 L329.05,362.17 L329.57,362.04 L330.12,361.91 L330.69,361.80 L331.28,361.69 L331.88,361.59 L332.50,361.51 L333.14,361.43 L333.78,361.35 L334.44,361.29 L335.10,361.23 L335.76,361.18 L336.43,361.14 L337.10,361.10 L337.76,361.07 L338.42,361.05 L339.01,361.04 L339.60,361.05 L340.22,361.07 L340.85,361.10 L341.50,361.14 L342.15,361.20 L342.81,361.25 L343.47,361.31 L344.13,361.38 L344.79,361.44 L345.45,361.50 L346.10,361.55 L346.75,361.60 L347.38,361.64 L348.00,361.67 L348.60,361.68 L349.19,361.67 L349.75,361.65 L350.53,361.60 L351.30,361.54 L352.05,361.47 L352.77,361.39 L353.48,361.29 L354.17,361.16 L354.83,361.01 L355.47,360.83 L356.08,360.61 L356.67,360.35 L357.22,360.03 L357.74,359.66 L358.25,359.18 L358.71,358.64 L359.10,358.05 L359.45,357.42 L359.74,356.76 L359.99,356.08 L360.19,355.39 L360.35,354.70 L360.46,354.02 L360.53,353.35 L360.55,352.70 L360.52,352.05 L360.44,351.39 L360.31,350.72 L360.13,350.06 L359.91,349.40 L359.65,348.76 L359.36,348.12 L359.03,347.51 L358.66,346.92 L358.27,346.37 L357.84,345.84 L357.41,345.38 L356.95,344.95 L356.45,344.53 L355.92,344.14 L355.37,343.76 L354.79,343.41 L354.20,343.08 L353.60,342.77 L352.99,342.49 L352.38,342.23 L351.77,342.00 L351.15,341.79 L350.48,341.62 L349.76,341.56 L349.01,341.54 L348.26,341.56 L347.51,341.60 L346.77,341.66 L346.06,341.72 L345.39,341.80 L344.78,341.87 L344.23,341.90 L343.77,341.89 L343.41,341.87Z" fill="#30260F"/>
<path d="M555.8,232.7C554.5,232.9 550.4,233.3 548.3,234C546.2,234.7 544.2,235.3 543.2,237.1C542.2,238.9 541.8,242.2 542,244.7C542.2,247.2 543.9,249.5 544.5,252.2C545.1,254.9 545.6,258.8 545.7,261C545.8,263.2 545.4,264.2 545,265.5C544.6,266.8 544.3,267.5 543.2,268.5C542.1,269.5 540.3,271.3 538.2,271.7C536.1,272.1 533.3,271.2 530.8,270.8C528.3,270.4 525.4,269.3 523.3,269.5C521.2,269.7 519.6,271.4 518.3,272C517,272.6 516.1,273.1 515.7,273.3" fill="none" stroke="#2E1012" stroke-width="1.7" stroke-linecap="round" stroke-linejoin="round"/>
<path d="M507.35,264.05 L507.59,264.33 L507.90,264.70 L508.27,265.13 L508.68,265.61 L509.12,266.14 L509.58,266.68 L510.04,267.24 L510.50,267.79 L510.93,268.32 L511.34,268.83 L511.72,269.32 L512.12,269.80 L512.51,270.28 L512.89,270.75 L513.27,271.23 L513.63,271.71 L513.99,272.19 L514.33,272.68 L514.65,273.19 L514.96,273.72 L515.26,274.25 L515.57,274.79 L515.89,275.34 L516.20,275.90 L516.49,276.46 L516.76,277.01 L516.99,277.56 L517.19,278.10 L517.33,278.63 L517.42,279.12 L517.45,279.61 L517.43,280.11 L517.35,280.65 L517.24,281.20 L517.08,281.77 L516.88,282.34 L516.64,282.90 L516.38,283.45 L516.08,283.97 L515.76,284.46 L515.43,284.92 L515.08,285.32 L514.72,285.67 L514.32,285.99 L513.88,286.29 L513.41,286.57 L512.90,286.83 L512.36,287.07 L511.79,287.30 L511.19,287.53 L510.56,287.75 L509.90,287.97 L509.24,288.19 L508.76,288.34 L508.26,288.46 L507.72,288.57 L507.17,288.67 L506.58,288.77 L505.99,288.86 L505.37,288.95 L504.75,289.04 L504.12,289.14 L503.49,289.25 L502.85,289.37 L502.22,289.52 L501.59,289.69 L500.97,289.88 L500.38,290.11 L499.80,290.36 L499.23,290.62 L498.64,290.89 L498.05,291.19 L497.47,291.49 L496.88,291.81 L496.30,292.15 L495.74,292.50 L495.19,292.86 L494.66,293.24 L494.15,293.64 L493.67,294.05 L493.22,294.48 L492.80,294.92 L492.42,295.39 L492.04,295.94 L491.70,296.52 L491.41,297.11 L491.16,297.72 L490.95,298.34 L490.78,298.98 L490.63,299.62 L490.52,300.27 L490.44,300.92 L490.39,301.57 L490.35,302.23 L490.34,302.88 L490.35,303.52 L490.38,304.14 L490.43,304.78 L490.51,305.44 L490.60,306.10 L490.73,306.78 L490.87,307.45 L491.03,308.13 L491.22,308.80 L491.43,309.45 L491.65,310.10 L491.90,310.72 L492.17,311.33 L492.46,311.90 L492.78,312.45 L493.14,313.00 L493.54,313.54 L493.97,314.05 L494.43,314.55 L494.91,315.02 L495.41,315.46 L495.93,315.88 L496.46,316.28 L497.00,316.64 L497.54,316.98 L498.09,317.28 L498.64,317.55 L499.19,317.79 L499.86,318.03 L500.56,318.21 L501.28,318.35 L502.00,318.44 L502.73,318.48 L503.46,318.49 L504.17,318.46 L504.86,318.40 L505.52,318.30 L506.16,318.17 L506.76,318.01 L507.43,317.77 L508.08,317.47 L508.69,317.11 L509.27,316.70 L509.80,316.24 L510.30,315.72 L510.75,315.16 L511.17,314.55 L511.55,313.90 L511.83,313.30 L512.01,312.63 L512.13,311.90 L512.22,311.14 L512.29,310.37 L512.35,309.60 L512.38,308.84 L512.41,308.12 L512.43,307.46 L512.47,306.88 L512.55,306.40 L512.63,306.02 L512.37,305.98 L512.30,306.35 L512.22,306.84 L512.08,307.41 L511.90,308.05 L511.71,308.73 L511.49,309.44 L511.26,310.16 L511.02,310.87 L510.77,311.53 L510.50,312.14 L510.25,312.66 L510.05,313.10 L509.73,313.64 L509.39,314.14 L509.02,314.60 L508.63,315.00 L508.21,315.36 L507.77,315.68 L507.29,315.96 L506.79,316.19 L506.24,316.39 L505.77,316.52 L505.23,316.63 L504.66,316.71 L504.06,316.77 L503.43,316.79 L502.80,316.79 L502.17,316.74 L501.54,316.67 L500.94,316.55 L500.36,316.40 L499.81,316.21 L499.35,316.01 L498.88,315.78 L498.40,315.51 L497.92,315.22 L497.44,314.89 L496.97,314.54 L496.52,314.17 L496.07,313.78 L495.65,313.36 L495.25,312.93 L494.88,312.48 L494.53,312.02 L494.22,311.55 L493.96,311.10 L493.71,310.60 L493.47,310.06 L493.25,309.50 L493.04,308.92 L492.85,308.31 L492.68,307.70 L492.53,307.07 L492.39,306.45 L492.28,305.83 L492.19,305.21 L492.12,304.61 L492.07,304.03 L492.05,303.48 L492.04,302.88 L492.05,302.28 L492.08,301.69 L492.13,301.10 L492.21,300.52 L492.30,299.95 L492.43,299.39 L492.58,298.84 L492.75,298.31 L492.96,297.81 L493.20,297.32 L493.47,296.85 L493.78,296.41 L494.08,296.04 L494.42,295.68 L494.80,295.32 L495.22,294.96 L495.68,294.61 L496.15,294.26 L496.66,293.93 L497.18,293.61 L497.72,293.29 L498.27,292.99 L498.82,292.70 L499.38,292.43 L499.94,292.16 L500.49,291.92 L501.02,291.69 L501.54,291.49 L502.07,291.32 L502.63,291.17 L503.21,291.03 L503.80,290.92 L504.40,290.81 L505.01,290.72 L505.62,290.63 L506.23,290.54 L506.84,290.45 L507.45,290.35 L508.05,290.24 L508.64,290.12 L509.21,289.97 L509.76,289.81 L510.45,289.58 L511.11,289.36 L511.76,289.13 L512.41,288.89 L513.03,288.63 L513.64,288.36 L514.23,288.06 L514.79,287.73 L515.33,287.36 L515.85,286.94 L516.32,286.48 L516.75,285.98 L517.16,285.43 L517.54,284.85 L517.88,284.24 L518.19,283.60 L518.47,282.95 L518.70,282.28 L518.89,281.61 L519.03,280.93 L519.12,280.26 L519.15,279.59 L519.11,278.92 L518.99,278.25 L518.81,277.59 L518.58,276.94 L518.31,276.31 L518.01,275.69 L517.69,275.09 L517.37,274.51 L517.05,273.94 L516.74,273.40 L516.44,272.88 L516.10,272.30 L515.74,271.74 L515.37,271.21 L514.99,270.69 L514.61,270.18 L514.22,269.69 L513.83,269.21 L513.44,268.73 L513.05,268.25 L512.66,267.77 L512.26,267.26 L511.81,266.71 L511.35,266.15 L510.88,265.59 L510.42,265.04 L509.97,264.52 L509.56,264.03 L509.20,263.60 L508.89,263.24 L508.65,262.95Z" fill="#2E1012"/>
<path d="M538.2,271.7C539.3,272.2 543.1,273.1 544.6,274.6C546.1,276.1 547.1,278.9 547.1,280.8C547.1,282.7 546.1,284.6 544.6,285.9C543.1,287.2 540.2,287.1 538.3,288.4C536.4,289.6 534.3,291.1 533.3,293.4C532.2,295.7 531.8,299.3 532,302.2C532.2,305.1 533.1,308.7 534.6,311C536.1,313.3 538.6,314.8 540.9,316C543.2,317.2 546.5,317.7 548.4,318.5C550.3,319.3 551.6,320.6 552.2,321" fill="none" stroke="#2E1012" stroke-width="1.7" stroke-linecap="round" stroke-linejoin="round"/>
<path d="M463.4,337.2C463.2,338.5 463,342.5 462.5,345C462,347.5 461.3,349.9 460.5,352C459.7,354.1 459.5,355.5 457.8,357.7C456.1,359.9 453.3,362.8 450.3,365.2C447.3,367.6 443.4,370.3 439.8,372.4C436.2,374.5 432.3,375.7 428.5,377.6C424.7,379.5 420.6,381.9 417.2,383.9C413.8,385.9 409.9,388.6 408.4,389.5" fill="none" stroke="#2E1D15" stroke-width="1.6" stroke-linecap="round" stroke-linejoin="round"/>
<path d="M463.4,337.6C465.4,338.1 471.3,339.8 475.4,340.7C479.5,341.6 483.1,342.2 488,343C492.9,343.8 497.9,344.4 505,345.2C512,346 522.5,347.4 530.3,347.7C538,348 548,347.1 551.5,347" fill="none" stroke="#2E1D15" stroke-width="1.6" stroke-linecap="round" stroke-linejoin="round"/>
<path d="M464,342C465.9,342.8 471.4,345.4 475.4,347C479.4,348.6 483.1,349.6 488,351.4C492.9,353.2 497.9,355.8 505,357.7C512,359.6 522.8,361.5 530.3,362.7C537.8,363.9 546.7,364.3 550,364.6" fill="none" stroke="#2E1D15" stroke-width="1.6" stroke-linecap="round" stroke-linejoin="round"/>
<path d="M463.4,345C464.1,346.3 465.8,350.2 467.8,352.7C469.8,355.2 472.5,357.7 475.4,360.2C478.3,362.7 482,365.6 485.4,367.7C488.8,369.8 491.2,370.9 495.5,372.8C499.8,374.7 506.5,377.3 511.4,379C516.3,380.7 520.6,381.9 525,383C529.4,384.1 535.4,385.3 537.5,385.8" fill="none" stroke="#2E1D15" stroke-width="1.6" stroke-linecap="round" stroke-linejoin="round"/>
<path d="M447.5,368.2C449,368.5 452.9,369.6 456.5,370.2C460.1,370.8 464.8,371.5 469,371.5C473.2,371.5 478.5,370.7 481.7,370.2C484.9,369.7 486.9,368.7 488,368.4" fill="none" stroke="#2E1D15" stroke-width="1.6" stroke-linecap="round" stroke-linejoin="round"/>
<path d="M436.1,374.4C438,374.9 443.4,376.6 447.4,377.6C451.4,378.7 456.3,379.9 459.9,380.7C463.5,381.5 465.6,382 469,382.2C472.4,382.4 476.3,382.1 480,381.6C483.7,381.1 487.4,380.1 491,379.3C494.6,378.5 499.7,377.1 501.4,376.6" fill="none" stroke="#2E1D15" stroke-width="1.6" stroke-linecap="round" stroke-linejoin="round"/>
<path d="M423.5,379.5C425.4,380 430.8,381.5 434.8,382.6C438.8,383.8 443.2,385.3 447.4,386.4C451.6,387.5 454.8,388.2 459.9,389C464.9,389.8 472.6,390.9 477.7,391.3C482.8,391.7 486.1,391.6 490.3,391.3C494.5,391 499,390.4 502.8,389.4C506.6,388.3 510,386.3 512.9,385C515.8,383.7 519,382.2 520.2,381.6" fill="none" stroke="#2E1D15" stroke-width="1.6" stroke-linecap="round" stroke-linejoin="round"/>
<path d="M469.5,391.3C469.2,392.8 468.5,396.8 467.6,400.1C466.7,403.5 465.1,407.4 463.9,411.4C462.6,415.4 461.4,419.4 460.1,424C458.8,428.6 457.1,434.6 456.3,439C455.5,443.4 455.3,447.7 455.1,450.4C454.9,453.1 455.3,454.2 455.3,455" fill="none" stroke="#2E1D15" stroke-width="1.6" stroke-linecap="round" stroke-linejoin="round"/>
<path d="M479.6,392.6C479.3,394.7 478.1,400.9 477.7,405.1C477.3,409.3 477.1,413.1 477.1,417.7C477.1,422.3 477.6,430.3 477.7,432.8" fill="none" stroke="#2E1D15" stroke-width="1.6" stroke-linecap="round" stroke-linejoin="round"/>
<path d="M490.3,392.6C490.5,394.1 490.9,398 491.5,401.4C492.1,404.8 493.3,408.7 494,412.7C494.7,416.7 495.6,423.1 495.9,425.2" fill="none" stroke="#2E1D15" stroke-width="1.6" stroke-linecap="round" stroke-linejoin="round"/>
<path d="M500.9,391.9C501.4,393.3 502.7,396.9 504.1,400.1C505.5,403.4 508.3,409.5 509.1,411.4" fill="none" stroke="#2E1D15" stroke-width="1.6" stroke-linecap="round" stroke-linejoin="round"/>
<path d="M371.6,153.5C371.2,152.4 370.5,151.8 369.5,151.2C368.5,150.6 366.8,150.1 365.5,149.8C364.2,149.5 363.8,149.5 362,149.2C360.2,148.9 356.9,148.4 354.7,148.1C352.5,147.8 350.5,147.4 348.8,147.3C347.1,147.2 345.9,147.3 344.4,147.7C342.9,148.1 341.5,148.8 340,149.5C338.5,150.2 338.3,151.2 335.4,151.6C332.5,152 326.6,151.8 322.8,152C319,152.2 315.7,152.2 312.7,152.5C309.7,152.8 307.1,153.1 304.8,154C302.5,154.9 300.5,156.5 298.8,158C297.1,159.5 296.3,161.3 294.8,162.9C293.3,164.5 291.5,166.3 289.8,167.4C288.1,168.5 286.7,168.8 284.9,169.4C283.1,170 280.9,170.3 278.9,170.9C276.9,171.5 274.9,171.9 272.9,172.9C270.9,173.9 268.9,175.1 266.9,176.9C264.9,178.7 263,182 261,183.8C259,185.6 257.2,186.4 255,187.8C252.8,189.2 249.8,190.7 247.5,192.5C245.2,194.3 243,196.2 241.5,198.5C240,200.8 239.8,203.4 238.5,206C237.2,208.6 235.7,211.7 233.5,214C231.3,216.3 227.8,218.4 225.2,220.1C222.6,221.8 219.8,222.4 217.7,223.9C215.6,225.4 213.8,226.8 212.6,228.9C211.4,231 211.4,234 210.8,236.4C210.2,238.8 210.3,241.2 209.3,243.5C208.3,245.8 206.2,247.5 204.6,250.3C203,253.1 201.1,257.3 199.7,260.3C198.2,263.3 197.1,265.7 195.9,268.5C194.7,271.3 193.5,273.9 192.7,277C191.9,280.1 191.4,283.3 191,287C190.6,290.7 190.1,295.2 190,299.4C189.9,303.6 190,308.3 190.4,312C190.8,315.7 191.5,318.9 192.5,321.5C193.5,324.1 194.8,325.7 196.5,327.4C198.2,329.1 200.7,330.1 203,331.6C205.3,333.1 208.1,334.5 210.1,336.4C212.1,338.2 213.4,341.1 215.1,342.7C216.8,344.3 218.2,345.5 220.1,345.9C222,346.3 224.3,345.6 226.4,345.2C228.5,344.8 230.6,343.4 232.7,343.3C234.8,343.2 236.9,344 239,344.6C241.1,345.2 242.6,346.3 245.3,347.1C248,347.9 252,349.1 255.3,349.6C258.6,350.1 262.5,350.2 265.4,350.3C268.3,350.4 270.8,350.1 272.9,350C275,349.9 276.4,351 277.9,349.6C279.4,348.2 280,344.5 281.7,341.5C283.4,338.5 285.9,334.5 288,331.4C290.1,328.2 291.8,325.2 294.2,322.6C296.6,320 300.2,318.5 302.7,315.7C305.2,312.9 306.9,308.4 309,305.7C311.1,303 313,301.3 315.3,299.4C317.6,297.5 320.3,296.5 322.8,294.4C325.3,292.3 327.8,289.3 330.3,286.8C332.8,284.3 335.3,281.3 337.9,279.3C340.5,277.3 343.8,276.4 346,275C348.2,273.6 350.1,272.8 351,271C351.9,269.2 351.4,265.9 351.5,264C351.6,262.1 351.3,261.2 351.3,259.5C351.3,257.8 351.1,256.4 351.3,254C351.5,251.6 351.8,248 352.5,245C353.2,242 354.6,239.1 355.5,236C356.4,232.9 357.2,230.2 357.6,226.5C358,222.8 358,218.2 358,214C358,209.8 357.5,204.7 357.5,201C357.5,197.3 357.7,194.7 358,192C358.3,189.3 358.5,187.2 359.1,185C359.7,182.8 360.5,181 361.5,179C362.5,177 363.9,174.9 365,173C366.1,171.1 367.3,169.3 368.3,167.5C369.3,165.7 370.3,163.6 370.9,162C371.5,160.4 371.8,159.4 371.9,158C372,156.6 372,154.6 371.6,153.5Z" fill="none" stroke="#2E140C" stroke-width="2.0" stroke-linejoin="round"/>
<path d="M371.6,153.5C371.8,152.3 372.5,151.3 373.2,150.6C373.9,149.9 374.8,149.6 376,149.2C377.2,148.8 378.4,148.5 380.4,148.4C382.3,148.3 385.6,148.2 387.7,148.4C389.8,148.6 391.3,148.9 392.9,149.5C394.5,150.1 396.1,151.5 397.3,152.1C398.5,152.7 399.2,152.9 400,153.2C400.8,153.4 400.7,153.7 402.3,153.6C403.9,153.5 407.2,152.7 409.7,152.5C412.1,152.3 414.6,152.3 417,152.5C419.4,152.7 422.3,153.1 424.4,153.6C426.5,154.1 428,154.6 429.5,155.4C431,156.2 432.1,157.3 433.2,158.4C434.3,159.5 435.1,161.2 436.1,162C437.1,162.8 437.3,163 439,163.1C440.7,163.2 443.7,162.9 446.4,162.8C449.1,162.8 452.9,162.7 455,162.8C457.1,162.9 457.1,162.6 458.8,163.2C460.5,163.8 463,165.4 465.1,166.3C467.2,167.2 468.7,168.4 471.4,168.8C474.1,169.2 478.6,168.4 481.5,168.8C484.4,169.2 486.9,170 489,171.3C491.1,172.6 492.3,174.7 494,176.4C495.7,178.1 496.9,180.1 499,181.4C501.1,182.8 504.3,183.4 506.6,184.5C508.9,185.6 510.8,186.1 512.9,187.7C515,189.3 516.6,192.1 519.1,194C521.6,195.9 525.2,196.9 527.9,199C530.6,201.1 533.4,204 535.5,206.5C537.6,209 539.3,211.5 540.5,214C541.7,216.5 543.4,219.8 542.6,221.4C541.8,223 538.1,222.2 535.7,223.3C533.3,224.5 530.9,226.4 528.2,228.3C525.5,230.2 521.9,232.5 519.4,234.6C516.9,236.7 514.7,238.6 513.1,240.9C511.5,243.2 510.6,245.9 509.9,248.4C509.2,250.9 509,253.5 508.7,256C508.4,258.5 508.9,261.4 508,263.5C507.1,265.6 504.6,267 503,268.5C501.4,270 499.9,271 498.5,272.3C497.1,273.6 496,276.5 494.6,276.5C493.2,276.5 492.1,273.6 490.3,272.3C488.5,271 486.5,269.8 484,268.8C481.5,267.8 478.3,267.2 475.2,266.5C472.1,265.8 468.5,265.4 465.1,264.6C461.8,263.8 458,262.6 455.1,261.5C452.2,260.4 449.9,258.8 447.5,257.7C445.1,256.6 442.8,255.9 440.5,255.1C438.2,254.2 435.6,253.4 433.5,252.6C431.4,251.8 429.7,251.5 427.9,250.1C426.1,248.7 424.8,246 422.9,244.4C421,242.8 419.1,241.6 416.6,240.7C414.1,239.8 411.4,239.3 407.8,239C404.2,238.7 399.5,238.7 395.3,238.8C391.1,239 386.3,239.3 382.7,239.9C379.1,240.5 376.8,241.2 373.9,242.6C371,244 367.8,246.3 365.1,248.3C362.4,250.3 359.9,252.5 357.6,254.4C355.3,256.3 352.4,259.6 351.3,259.5C350.2,259.4 351.1,256.4 351.3,254C351.5,251.6 351.8,248 352.5,245C353.2,242 354.6,239.1 355.5,236C356.4,232.9 357.2,230.2 357.6,226.5C358,222.8 358,218.2 358,214C358,209.8 357.5,204.7 357.5,201C357.5,197.3 357.7,194.7 358,192C358.3,189.3 358.5,187.2 359.1,185C359.7,182.8 360.5,181 361.5,179C362.5,177 363.9,174.9 365,173C366.1,171.1 367.3,169.3 368.3,167.5C369.3,165.7 370.3,163.6 370.9,162C371.5,160.4 371.8,159.4 371.9,158C372,156.6 371.4,154.7 371.6,153.5Z" fill="none" stroke="#0F2224" stroke-width="2.0" stroke-linejoin="round"/>
<path d="M542.6,221.4C540.1,221 538.1,222.2 535.7,223.3C533.3,224.5 530.9,226.4 528.2,228.3C525.5,230.2 521.9,232.5 519.4,234.6C516.9,236.7 514.7,238.6 513.1,240.9C511.5,243.2 510.6,245.9 509.9,248.4C509.2,250.9 509,253.5 508.7,256C508.4,258.5 508.9,261.4 508,263.5C507.1,265.6 504.6,267 503,268.5C501.4,270 499.9,271 498.5,272.3C497.1,273.6 496.2,274.9 494.6,276.5C493,278.1 490.6,280.2 488.6,281.9C486.6,283.6 484.5,285.2 482.7,286.9C480.9,288.6 479,289.8 477.7,291.9C476.4,294 475.5,297.1 474.7,299.8C473.9,302.5 473.3,305 472.9,307.8C472.5,310.6 472.2,314.1 472.2,316.7C472.2,319.3 472.2,322.3 473,323.6C473.8,324.9 475.2,324.3 477,324.6C478.8,324.9 481.2,325.1 484,325.6C486.8,326.1 490.6,327 493.9,327.5C497.2,328 500.4,328.7 503.6,328.6C506.9,328.5 510.7,327.3 513.4,326.8C516.1,326.3 517.3,325.9 520,325.5C522.7,325.1 526.2,324.6 529.4,324.3C532.6,324 536.3,324 539.2,323.6C542.1,323.2 545,322.6 547,322.2C549,321.8 549,321.2 551,321C553,320.8 556.5,321.3 558.8,321.1C561.1,320.9 562.8,320.7 564.6,319.6C566.4,318.5 568.2,317 569.5,314.5C570.8,312 571.7,308.8 572.5,304.7C573.3,300.6 573.8,294.6 574.4,290C575,285.4 575.6,281.1 575.9,277.3C576.2,273.5 576.6,270.2 576.4,267.3C576.2,264.4 575.7,262.4 574.6,259.7C573.5,257 571.5,253.8 569.6,250.9C567.7,248 565.4,245.1 563.3,242.2C561.2,239.3 559.1,236.1 557,233.4C554.9,230.7 553.2,227.8 550.8,225.8C548.4,223.8 545.1,221.8 542.6,221.4Z" fill="none" stroke="#2E1012" stroke-width="2.0" stroke-linejoin="round"/>
<path d="M351.3,259.5C352.3,257.9 355.3,256.3 357.6,254.4C359.9,252.5 362.4,250.3 365.1,248.3C367.8,246.3 371,244 373.9,242.6C376.8,241.2 379.1,240.5 382.7,239.9C386.3,239.3 391.1,239 395.3,238.8C399.5,238.7 404.2,238.7 407.8,239C411.4,239.3 414.1,239.8 416.6,240.7C419.1,241.6 421,242.8 422.9,244.4C424.8,246 426.1,248.7 427.9,250.1C429.7,251.5 431.4,251.8 433.5,252.6C435.6,253.4 438.2,254.2 440.5,255.1C442.8,255.9 445.1,256.6 447.5,257.7C449.9,258.8 452.2,260.4 455.1,261.5C458,262.6 461.8,263.8 465.1,264.6C468.5,265.4 472.1,265.8 475.2,266.5C478.3,267.2 481.5,267.8 484,268.8C486.5,269.8 488.5,271 490.3,272.3C492.1,273.6 494.9,274.9 494.6,276.5C494.3,278.1 490.6,280.2 488.6,281.9C486.6,283.6 484.5,285.2 482.7,286.9C480.9,288.6 479,289.8 477.7,291.9C476.4,294 475.5,297.1 474.7,299.8C473.9,302.5 473.3,305 472.9,307.8C472.5,310.6 472.2,314.1 472.2,316.7C472.2,319.3 472.9,321.9 473,323.6C473.1,325.3 472.9,325.7 472.5,327C472.1,328.3 471.9,329.8 470.3,331.3C468.7,332.9 466.2,335.1 462.8,336.3C459.4,337.5 453.8,337.7 450,338.6C446.2,339.6 443.6,341.1 440,342C436.4,342.9 432.1,343.2 428.5,343.9C424.9,344.5 421.9,345.3 418.7,345.9C415.4,346.5 411.8,346.7 409,347.3C406.2,347.9 403.9,348.4 402.1,349.3C400.3,350.2 399.4,351.3 398.2,352.7C397,354.1 396.3,356.3 395.2,357.6C394.1,358.9 392.8,359.6 391.3,360.6C389.8,361.6 387.9,362.5 386.4,363.5C384.9,364.5 383.5,365.4 382.5,366.4C381.5,367.4 381.2,368.2 380.6,369.4C380,370.5 379.4,371.8 378.6,373.3C377.8,374.8 376.8,376.9 375.7,378.2C374.6,379.5 373.4,380.3 371.8,381.1C370.2,381.9 367.9,382.6 365.9,383.1C363.9,383.6 361.7,383.7 360,384C358.3,384.3 357.8,383.9 355.9,384.7C354,385.4 351.3,387.4 348.4,388.5C345.5,389.6 341.5,390.9 338.4,391.2C335.3,391.5 332.3,391.1 329.6,390.5C326.9,389.9 324.3,388.7 322,387.8C319.7,386.9 318,385.8 315.7,385.3C313.4,384.8 311.1,385.3 308.2,384.7C305.3,384.1 301.3,383 298.2,381.6C295.1,380.2 292.1,378.4 289.4,376.5C286.7,374.6 283.8,372.8 281.8,370.3C279.8,367.8 278.2,364.1 277.4,361.5C276.6,358.9 276.9,357 277,355C277.1,353 277.1,351.9 277.9,349.6C278.7,347.4 280,344.5 281.7,341.5C283.4,338.5 285.9,334.5 288,331.4C290.1,328.2 291.8,325.2 294.2,322.6C296.6,320 300.2,318.5 302.7,315.7C305.2,312.9 306.9,308.4 309,305.7C311.1,303 313,301.3 315.3,299.4C317.6,297.5 320.3,296.5 322.8,294.4C325.3,292.3 327.8,289.3 330.3,286.8C332.8,284.3 335.3,281.3 337.9,279.3C340.5,277.3 343.8,276.4 346,275C348.2,273.6 350.1,272.8 351,271C351.9,269.2 351.4,265.9 351.5,264C351.6,262.1 350.3,261.1 351.3,259.5Z" fill="none" stroke="#30260F" stroke-width="2.0" stroke-linejoin="round"/>
<path d="M380.6,369.4C380.3,368.1 381.5,367.4 382.5,366.4C383.5,365.4 384.9,364.5 386.4,363.5C387.9,362.5 389.8,361.6 391.3,360.6C392.8,359.6 394.1,358.9 395.2,357.6C396.3,356.3 397,354.1 398.2,352.7C399.4,351.3 400.3,350.2 402.1,349.3C403.9,348.4 406.2,347.9 409,347.3C411.8,346.7 415.4,346.5 418.7,345.9C421.9,345.3 424.9,344.5 428.5,343.9C432.1,343.2 436.4,342.9 440,342C443.6,341.1 446.2,339.6 450,338.6C453.8,337.7 459.4,337.5 462.8,336.3C466.2,335.1 468.7,332.9 470.3,331.3C471.9,329.8 472.1,328.3 472.5,327C472.9,325.7 472.2,324 473,323.6C473.8,323.2 475.2,324.3 477,324.6C478.8,324.9 481.2,325.1 484,325.6C486.8,326.1 490.6,327 493.9,327.5C497.2,328 500.4,328.7 503.6,328.6C506.9,328.5 510.7,327.3 513.4,326.8C516.1,326.3 517.3,325.9 520,325.5C522.7,325.1 526.2,324.6 529.4,324.3C532.6,324 536.3,324 539.2,323.6C542.1,323.2 545,322.6 547,322.2C549,321.8 550.3,320.1 551,321C551.7,321.9 551.1,324.4 551.2,327.6C551.3,330.8 551.5,335.9 551.5,340.1C551.5,344.3 551.5,348.5 551.2,352.7C550.9,356.9 550.7,361.4 549.7,365.2C548.7,369 546.9,372 545.3,375.3C543.7,378.6 542,381.5 540,385C538,388.5 535.4,393.2 533,396.3C530.6,399.4 527.9,401.8 525.4,403.9C522.9,406 520.6,407.5 517.9,408.9C515.2,410.2 511.8,411.2 509.1,412C506.4,412.8 503.3,412.9 501.6,413.9C499.9,414.8 499.6,416.2 499,417.7C498.4,419.2 498.4,421 497.8,422.7C497.2,424.4 496.6,426.4 495.3,427.7C494.1,429 492.4,429.7 490.3,430.3C488.2,430.9 484.8,431.1 482.7,431.5C480.6,431.9 478.7,432 477.7,432.8C476.7,433.6 476.3,435.1 476.6,436.5C476.9,437.9 478.2,439.7 479.5,441.5C480.8,443.3 483.1,445.5 484.5,447.5C485.9,449.5 487.2,451.4 487.8,453.5C488.4,455.6 488.6,458.2 488.4,460.2C488.2,462.1 487.9,463.9 486.5,465.2C485.1,466.4 482.8,467.2 480.3,467.7C477.8,468.2 474,468.7 471.5,468.4C469,468.1 467.1,467.3 465.2,465.9C463.3,464.5 461.9,462.4 460.2,460.2C458.5,458 456.8,455.4 455.1,452.7C453.4,450 451.8,446.6 450.1,443.9C448.4,441.2 447.2,438.6 445.1,436.3C443,434 439.9,432.2 437.5,430.2C435.1,428.2 432.7,426.4 431,424.1C429.3,421.8 428.8,418.8 427.3,416.5C425.9,414.2 424.2,412.6 422.3,410.3C420.4,408 417.5,404.8 416,402.7C414.5,400.6 414.1,399.5 413.2,398C412.3,396.5 411.8,395.4 410.9,393.9C410,392.4 409.6,390.3 408,389.2C406.4,388.1 403.4,388 401.1,387C398.8,386 396.2,384.4 394.3,383.1C392.4,381.8 391,380.7 389.4,379.2C387.8,377.7 386,375.9 384.5,374.3C383,372.7 380.9,370.7 380.6,369.4Z" fill="none" stroke="#2E1D15" stroke-width="2.0" stroke-linejoin="round"/>
<path d="M44.5,182.5 L207.8,182.5 L227.3,201.8" fill="none" stroke="#781C1E" stroke-width="2.4" stroke-linecap="round" stroke-linejoin="miter"/>
<path d="M444.0,140.6 L456.3,124.1 L628.8,124.1" fill="none" stroke="#781C1E" stroke-width="2.4" stroke-linecap="round" stroke-linejoin="miter"/>
<path d="M582.4,277.6 L596.2,261.1 L787.4,261.1" fill="none" stroke="#781C1E" stroke-width="2.4" stroke-linecap="round" stroke-linejoin="miter"/>
<path d="M44.3,403.4 L247.4,403.4 L275.9,383.1" fill="none" stroke="#781C1E" stroke-width="2.4" stroke-linecap="round" stroke-linejoin="miter"/>
<path d="M293.9,436.7 L362.8,436.7 L392.5,398.0" fill="none" stroke="#781C1E" stroke-width="2.4" stroke-linecap="round" stroke-linejoin="miter"/>
<path d="M142.0,488.5 L397.7,488.5 L431.3,441.3" fill="none" stroke="#781C1E" stroke-width="2.4" stroke-linecap="round" stroke-linejoin="miter"/>
<path d="M553.7,378.6 L567.3,405.1 L724.0,405.1" fill="none" stroke="#781C1E" stroke-width="2.4" stroke-linecap="round" stroke-linejoin="miter"/>
<path d="M488.3,475.0 L501.7,501.5 L668.1,501.5" fill="none" stroke="#781C1E" stroke-width="2.4" stroke-linecap="round" stroke-linejoin="miter"/>
<text x="0" y="172.30" font-family="Liberation Sans, sans-serif" font-size="27.4" fill="#111111" transform="matrix(1.0405,0,0,1,48.16,0)">Frontal</text>
<text x="0" y="172.30" font-family="Liberation Sans, sans-serif" font-size="27.4" fill="#111111" transform="matrix(1.0033,0,0,1,147.60,0)">Lobe</text>
<text x="0" y="115.75" font-family="Liberation Sans, sans-serif" font-size="27.4" fill="#111111" transform="matrix(1.0374,0,0,1,458.06,0)">Perietal</text>
<text x="0" y="115.75" font-family="Liberation Sans, sans-serif" font-size="27.4" fill="#111111" transform="matrix(1.0083,0,0,1,564.49,0)">Lobe</text>
<text x="0" y="249.90" font-family="Liberation Sans, sans-serif" font-size="27.4" fill="#111111" transform="matrix(1.0485,0,0,1,600.45,0)">Occipital</text>
<text x="0" y="249.90" font-family="Liberation Sans, sans-serif" font-size="27.4" fill="#111111" transform="matrix(1.0000,0,0,1,720.70,0)">Lobe</text>
<text x="0" y="392.00" font-family="Liberation Sans, sans-serif" font-size="27.4" fill="#111111" transform="matrix(1.0911,0,0,1,50.00,0)">Temporal</text>
<text x="0" y="392.00" font-family="Liberation Sans, sans-serif" font-size="27.4" fill="#111111" transform="matrix(0.9950,0,0,1,183.41,0)">Lobe</text>
<text x="0" y="428.60" font-family="Liberation Sans, sans-serif" font-size="27.4" fill="#111111" transform="matrix(0.9951,0,0,1,298.70,0)">Pons</text>
<text x="0" y="475.40" font-family="Liberation Sans, sans-serif" font-size="27.4" fill="#111111" transform="matrix(1.0406,0,0,1,149.26,0)">Medulla</text>
<text x="0" y="475.40" font-family="Liberation Sans, sans-serif" font-size="27.4" fill="#111111" transform="matrix(1.0516,0,0,1,260.45,0)">Oblongata</text>
<text x="0" y="394.70" font-family="Liberation Sans, sans-serif" font-size="27.4" fill="#111111" transform="matrix(1.0577,0,0,1,572.04,0)">Serebellum</text>
<text x="0" y="490.10" font-family="Liberation Sans, sans-serif" font-size="27.4" fill="#111111" transform="matrix(1.0216,0,0,1,515.08,0)">Spinal</text>
<text x="0" y="490.10" font-family="Liberation Sans, sans-serif" font-size="27.4" fill="#111111" transform="matrix(1.0172,0,0,1,601.98,0)">Cord</text>
</svg>
</body></html>
